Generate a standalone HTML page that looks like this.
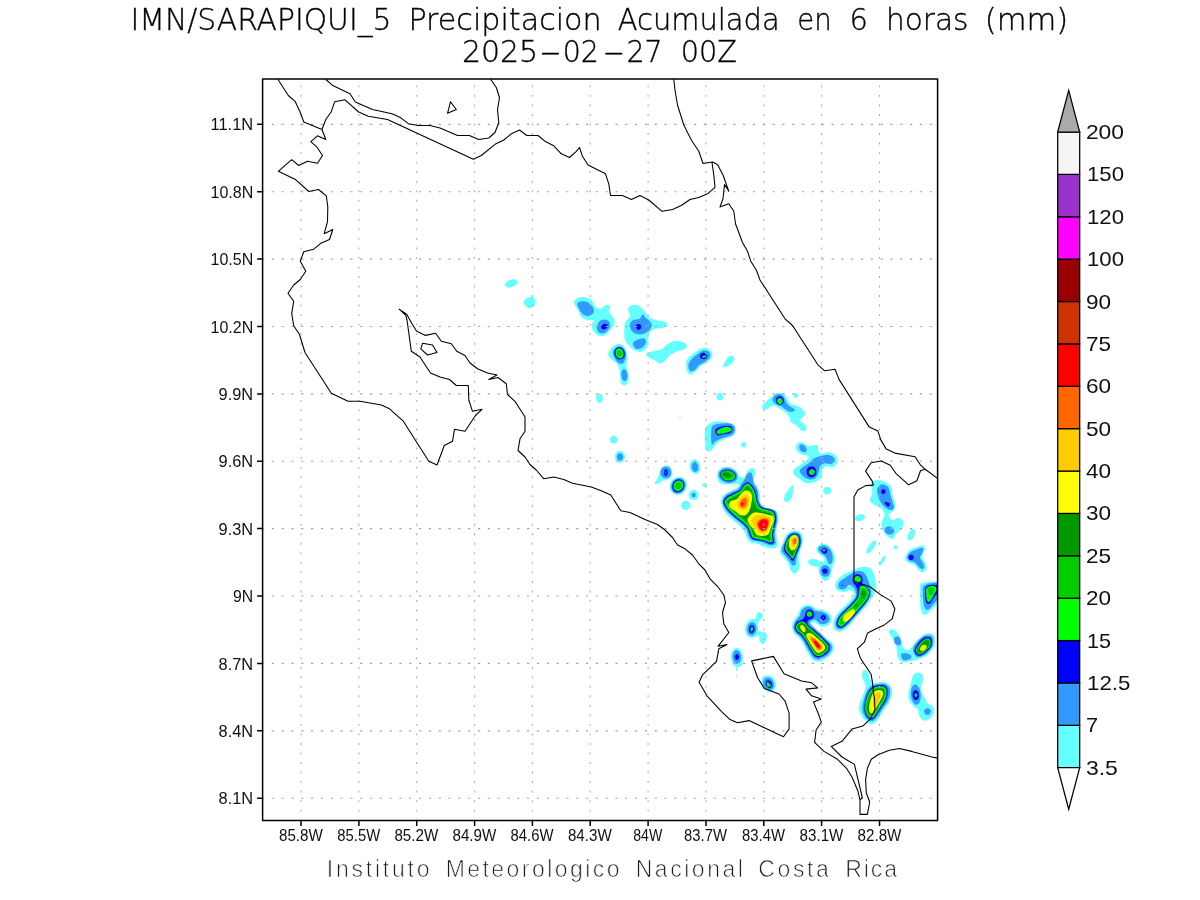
<!DOCTYPE html>
<html lang="es">
<head>
<meta charset="utf-8">
<title>IMN/SARAPIQUI_5 Precipitacion Acumulada en 6 horas (mm)</title>
<style>
html,body{margin:0;padding:0;background:#fff;}
body{width:1200px;height:900px;overflow:hidden;}
svg{display:block;}
text{font-family:"Liberation Sans",sans-serif;fill:#111;}
.ax{font-size:17px;}
.cb{font-size:19.8px;}
.ti{font-family:"DejaVu Sans","Liberation Sans",sans-serif;font-weight:200;font-size:30.6px;fill:#000;stroke:#000;stroke-width:0.35px;}
.ft{font-size:23px;fill:#1a1a1a;stroke:#fff;stroke-width:0.72px;}
.coast{fill:none;stroke:#000;stroke-width:1.08;stroke-linejoin:round;stroke-linecap:round;}
.grid{fill:none;stroke:#a4a4a4;stroke-width:1.15;stroke-dasharray:2.2 7.62;}
.gridv{fill:none;stroke:#ababab;stroke-width:1.1;stroke-dasharray:1.9 7.63;}
</style>
</head>
<body>
<svg width="1200" height="900" viewBox="0 0 1200 900">
<rect width="1200" height="900" fill="#fff"/>
<defs><clipPath id="pc"><rect x="262.6" y="79.1" width="675.0" height="741.3"/></clipPath></defs>
<g clip-path="url(#pc)">
<path fill="#66ffff" d="M517.3 281.2C517.6 281.9 517.4 282.8 516.9 283.7C516.4 284.5 515.4 285.4 514.3 286.0C513.3 286.6 511.8 287.2 510.5 287.4C509.3 287.6 507.9 287.5 507.0 287.3C506.1 287.0 505.4 286.3 505.1 285.6C504.9 285.0 505.0 284.0 505.6 283.2C506.1 282.4 507.1 281.4 508.1 280.8C509.2 280.2 510.7 279.6 511.9 279.4C513.1 279.2 514.5 279.3 515.4 279.6C516.3 279.9 517.1 280.5 517.3 281.2ZM523.6 302.3C523.8 300.9 525.4 298.8 526.8 297.9C528.3 297.1 530.8 296.6 532.3 297.1C533.7 297.5 535.1 299.3 535.5 300.8C535.9 302.2 535.3 304.5 534.4 305.7C533.5 307.0 531.5 308.3 530.1 308.3C528.6 308.4 526.8 307.2 525.8 306.2C524.7 305.2 523.4 303.6 523.6 302.3ZM574.1 302.9C573.7 300.8 575.2 299.6 576.7 298.6C578.2 297.6 580.8 296.9 583.2 297.1C585.5 297.2 588.6 298.0 590.8 299.7C592.9 301.4 594.4 305.8 596.2 307.3C598.0 308.7 600.0 308.7 601.6 308.3C603.2 308.0 604.5 305.4 605.9 305.1C607.4 304.7 609.7 305.1 610.3 306.2C610.8 307.3 608.6 309.6 609.2 311.6C609.7 313.6 612.6 316.1 613.5 318.1C614.4 320.1 615.1 321.5 614.6 323.5C614.1 325.5 611.9 328.0 610.3 330.0C608.6 332.0 606.8 334.5 604.8 335.4C602.9 336.3 600.3 336.3 598.3 335.4C596.4 334.5 594.0 331.8 592.9 330.0C591.8 328.2 591.7 326.2 591.8 324.6C592.0 323.0 594.7 321.0 594.0 320.3C593.3 319.5 589.7 320.8 587.5 320.3C585.3 319.7 582.5 318.4 581.0 317.0C579.6 315.6 580.0 313.9 578.8 311.6C577.7 309.2 574.4 305.1 574.1 302.9ZM628.7 307.3C629.5 306.4 631.2 305.3 633.0 305.1C634.8 304.9 637.5 305.1 639.5 306.2C641.5 307.3 643.1 309.6 644.9 311.6C646.7 313.6 648.4 316.6 650.3 318.1C652.3 319.5 654.5 319.6 656.8 320.3C659.2 320.9 662.6 321.0 664.4 321.8C666.2 322.5 667.9 323.6 667.7 324.6C667.5 325.6 665.5 327.1 663.3 327.8C661.2 328.6 657.0 328.0 654.7 328.9C652.3 329.8 650.3 331.3 649.3 333.3C648.2 335.2 648.5 338.5 648.2 340.8C647.8 343.2 648.2 345.5 647.1 347.3C646.0 349.1 643.7 351.1 641.7 351.7C639.7 352.2 637.3 351.7 635.2 350.6C633.0 349.5 630.4 347.2 628.7 345.2C626.9 343.2 625.5 341.2 624.8 338.7C624.1 336.1 624.2 332.7 624.3 330.0C624.5 327.3 624.5 324.8 625.4 322.4C626.3 320.1 629.3 317.9 629.8 315.9C630.2 313.9 628.4 311.9 628.2 310.5C628.1 309.1 627.9 308.2 628.7 307.3ZM608.1 353.8C608.3 351.9 610.8 349.0 612.4 347.3C614.1 345.7 616.0 344.4 617.8 344.1C619.6 343.8 621.8 344.3 623.3 345.6C624.7 346.9 625.8 349.6 626.5 351.7C627.2 353.8 627.6 355.6 627.6 358.2C627.6 360.7 626.3 364.3 626.5 366.8C626.7 369.4 628.3 371.2 628.7 373.3C629.0 375.5 629.2 377.9 628.7 379.8C628.1 381.8 626.7 384.7 625.4 385.3C624.2 385.8 622.0 384.7 621.1 383.1C620.2 381.5 620.3 377.9 620.0 375.5C619.7 373.2 619.9 371.0 619.4 369.0C618.8 367.0 618.1 365.2 616.8 363.6C615.4 362.0 612.8 360.9 611.3 359.3C609.9 357.6 607.9 355.8 608.1 353.8ZM646.0 354.9C646.2 353.9 647.8 352.6 650.3 351.7C652.9 350.8 658.3 350.8 661.2 349.5C664.1 348.2 665.5 345.5 667.7 344.1C669.8 342.7 671.7 341.6 674.2 341.3C676.7 340.9 680.7 341.2 682.8 341.9C685.0 342.6 687.0 344.3 687.2 345.6C687.4 346.9 685.7 348.5 683.9 349.5C682.1 350.5 678.7 350.8 676.3 351.7C674.0 352.6 671.7 353.5 669.8 354.9C668.0 356.4 667.1 358.9 665.5 360.3C663.9 361.8 661.9 363.6 660.1 363.6C658.3 363.6 656.5 361.3 654.7 360.3C652.9 359.4 650.7 358.6 649.3 357.7C647.8 356.8 645.8 355.9 646.0 354.9ZM686.1 362.5C686.5 360.2 687.7 358.9 689.3 357.1C691.0 355.3 693.9 353.1 695.9 351.7C697.8 350.2 699.3 349.0 701.3 348.4C703.3 347.9 706.0 347.7 707.8 348.4C709.6 349.1 711.5 351.1 712.1 352.8C712.7 354.4 712.4 356.5 711.5 358.2C710.5 359.8 708.4 361.2 706.7 362.5C705.0 363.8 703.1 364.3 701.3 365.8C699.5 367.2 697.7 369.7 695.9 371.2C694.0 372.6 691.9 374.4 690.4 374.4C689.0 374.4 687.9 373.2 687.2 371.2C686.5 369.2 685.7 364.9 686.1 362.5ZM722.9 366.8C722.6 366.0 724.2 363.0 725.1 361.4C726.0 359.8 727.1 358.0 728.4 357.1C729.6 356.2 731.7 355.6 732.7 356.0C733.7 356.4 734.4 358.0 734.2 359.3C734.0 360.5 732.8 362.4 731.6 363.6C730.4 364.8 728.7 365.9 727.3 366.4C725.8 367.0 723.3 367.7 722.9 366.8ZM602.6 397.7C602.8 398.6 602.7 399.8 602.5 400.6C602.3 401.4 601.7 402.2 601.2 402.6C600.7 402.9 599.9 403.1 599.2 402.9C598.6 402.7 597.8 402.2 597.3 401.5C596.8 400.8 596.4 399.7 596.2 398.8C596.1 397.9 596.1 396.8 596.3 396.0C596.6 395.1 597.1 394.4 597.6 394.0C598.2 393.6 599.0 393.4 599.6 393.6C600.3 393.8 601.0 394.4 601.5 395.0C602.0 395.7 602.5 396.8 602.6 397.7ZM602.8 397.4C602.9 398.3 602.9 399.4 602.6 400.1C602.4 400.9 601.8 401.7 601.3 402.0C600.7 402.4 599.9 402.6 599.2 402.4C598.6 402.2 597.8 401.7 597.3 401.1C596.8 400.4 596.4 399.4 596.2 398.6C596.1 397.7 596.1 396.6 596.4 395.9C596.6 395.1 597.2 394.3 597.7 394.0C598.3 393.6 599.1 393.4 599.8 393.6C600.4 393.8 601.2 394.3 601.7 394.9C602.2 395.6 602.6 396.6 602.8 397.4ZM617.7 439.7C617.7 440.5 617.4 441.4 616.9 442.0C616.5 442.7 615.7 443.2 615.0 443.5C614.3 443.7 613.4 443.7 612.6 443.5C611.9 443.2 611.2 442.7 610.7 442.0C610.3 441.4 610.0 440.5 610.0 439.7C610.0 438.9 610.3 437.9 610.7 437.3C611.2 436.7 611.9 436.1 612.6 435.9C613.4 435.6 614.3 435.6 615.0 435.9C615.7 436.1 616.5 436.7 616.9 437.3C617.4 437.9 617.7 438.9 617.7 439.7ZM625.0 456.7C625.0 457.8 624.6 459.2 624.0 460.2C623.5 461.1 622.5 462.0 621.5 462.4C620.6 462.7 619.4 462.7 618.5 462.4C617.5 462.0 616.5 461.1 616.0 460.2C615.4 459.2 615.0 457.8 615.0 456.7C615.0 455.5 615.4 454.1 616.0 453.1C616.5 452.2 617.5 451.3 618.5 451.0C619.4 450.6 620.6 450.6 621.5 451.0C622.5 451.3 623.5 452.2 624.0 453.1C624.6 454.1 625.0 455.5 625.0 456.7ZM680.7 418.0C680.7 418.2 680.6 418.4 680.5 418.5C680.5 418.6 680.3 418.7 680.2 418.8C680.1 418.8 679.9 418.8 679.8 418.8C679.7 418.7 679.5 418.6 679.5 418.5C679.4 418.4 679.3 418.2 679.3 418.0C679.3 417.8 679.4 417.6 679.5 417.5C679.5 417.4 679.7 417.3 679.8 417.2C679.9 417.2 680.1 417.2 680.2 417.2C680.3 417.3 680.5 417.4 680.5 417.5C680.6 417.6 680.7 417.8 680.7 418.0ZM723.2 394.8C723.5 395.5 723.7 396.3 723.6 397.0C723.6 397.8 723.2 398.6 722.7 399.1C722.2 399.7 721.5 400.1 720.8 400.3C720.1 400.4 719.2 400.3 718.5 400.0C717.9 399.7 717.2 399.1 716.8 398.5C716.5 397.9 716.3 397.0 716.4 396.3C716.4 395.6 716.8 394.7 717.3 394.2C717.8 393.7 718.5 393.2 719.2 393.1C719.9 392.9 720.8 393.0 721.5 393.3C722.1 393.6 722.8 394.2 723.2 394.8ZM705.3 428.3C706.1 425.1 708.1 424.8 710.0 423.7C711.9 422.5 713.9 421.5 716.7 421.3C719.4 421.1 723.9 422.0 726.7 422.5C729.4 423.0 731.8 422.9 733.3 424.2C734.9 425.4 735.8 428.1 735.8 430.0C735.8 431.9 734.9 434.4 733.3 435.8C731.8 437.2 728.9 437.4 726.7 438.3C724.4 439.2 721.9 440.1 720.0 441.3C718.1 442.6 716.5 444.2 715.0 445.8C713.5 447.4 712.2 450.0 710.8 450.8C709.4 451.7 707.6 452.1 706.7 450.8C705.8 449.6 705.6 447.1 705.3 443.3C705.1 439.6 704.6 431.6 705.3 428.3ZM746.5 444.7C746.5 445.2 746.3 445.9 746.0 446.3C745.6 446.8 745.1 447.2 744.5 447.4C744.0 447.5 743.3 447.5 742.8 447.4C742.3 447.2 741.7 446.8 741.4 446.3C741.0 445.9 740.8 445.2 740.8 444.7C740.8 444.1 741.0 443.5 741.4 443.0C741.7 442.6 742.3 442.1 742.8 442.0C743.3 441.8 744.0 441.8 744.5 442.0C745.1 442.1 745.6 442.6 746.0 443.0C746.3 443.5 746.5 444.1 746.5 444.7ZM655.0 483.3C655.0 482.2 657.4 479.0 658.3 476.7C659.3 474.3 659.7 471.1 660.8 469.2C661.9 467.3 663.5 465.8 665.0 465.3C666.5 464.9 668.8 465.2 670.0 466.7C671.2 468.1 672.8 472.1 672.5 474.2C672.2 476.2 670.0 478.1 668.3 479.2C666.7 480.3 664.2 480.1 662.5 480.8C660.8 481.6 659.6 483.2 658.3 483.7C657.1 484.1 655.0 484.5 655.0 483.3ZM700.3 465.7C700.5 467.2 700.4 469.0 700.0 470.3C699.6 471.5 698.8 472.8 697.9 473.4C697.0 474.0 695.7 474.3 694.6 474.0C693.6 473.7 692.3 472.8 691.5 471.8C690.7 470.7 690.0 469.0 689.7 467.6C689.5 466.1 689.6 464.4 690.0 463.1C690.4 461.8 691.2 460.5 692.1 459.9C693.0 459.3 694.3 459.1 695.4 459.4C696.4 459.6 697.7 460.5 698.5 461.6C699.3 462.6 700.0 464.3 700.3 465.7ZM685.6 490.0C684.7 491.6 683.0 493.1 681.5 493.9C679.9 494.6 677.8 495.0 676.2 494.7C674.6 494.4 672.8 493.4 671.7 492.1C670.7 490.8 669.9 488.9 669.8 487.1C669.7 485.4 670.2 483.2 671.1 481.7C672.0 480.1 673.6 478.6 675.2 477.8C676.7 477.0 678.8 476.7 680.5 477.0C682.1 477.3 683.9 478.3 684.9 479.6C686.0 480.8 686.8 482.8 686.9 484.5C687.0 486.3 686.4 488.4 685.6 490.0ZM698.7 495.0C698.7 496.0 698.3 497.1 697.7 497.9C697.1 498.7 696.1 499.5 695.2 499.8C694.3 500.1 693.1 500.1 692.1 499.8C691.2 499.5 690.2 498.7 689.6 497.9C689.0 497.1 688.7 496.0 688.7 495.0C688.7 494.0 689.0 492.9 689.6 492.1C690.2 491.3 691.2 490.5 692.1 490.2C693.1 489.9 694.3 489.9 695.2 490.2C696.1 490.5 697.1 491.3 697.7 492.1C698.3 492.9 698.7 494.0 698.7 495.0ZM690.5 505.3C690.5 506.2 690.1 507.3 689.6 508.1C689.1 508.8 688.1 509.5 687.3 509.8C686.4 510.1 685.3 510.1 684.4 509.8C683.5 509.5 682.6 508.8 682.1 508.1C681.5 507.3 681.2 506.2 681.2 505.3C681.2 504.4 681.5 503.3 682.1 502.6C682.6 501.9 683.5 501.2 684.4 500.9C685.3 500.6 686.4 500.6 687.3 500.9C688.1 501.2 689.1 501.9 689.6 502.6C690.1 503.3 690.5 504.4 690.5 505.3ZM706.7 485.0C706.7 485.4 706.5 485.9 706.3 486.3C706.1 486.6 705.7 486.9 705.3 487.1C704.9 487.2 704.4 487.2 704.0 487.1C703.7 486.9 703.3 486.6 703.0 486.3C702.8 485.9 702.7 485.4 702.7 485.0C702.7 484.6 702.8 484.1 703.0 483.7C703.3 483.4 703.7 483.1 704.0 482.9C704.4 482.8 704.9 482.8 705.3 482.9C705.7 483.1 706.1 483.4 706.3 483.7C706.5 484.1 706.7 484.6 706.7 485.0ZM717.1 475.2C717.3 473.4 718.1 471.1 719.4 469.8C720.7 468.4 722.8 467.4 724.9 467.1C727.0 466.9 729.9 467.5 731.9 468.2C733.8 468.9 735.3 469.9 736.6 471.3C737.9 472.8 738.4 475.7 739.7 476.8C741.0 477.8 743.0 478.5 744.3 477.6C745.6 476.6 746.4 472.9 747.4 471.3C748.5 469.8 749.4 468.6 750.6 468.2C751.7 467.8 753.7 468.1 754.4 469.0C755.2 469.9 755.4 471.9 755.2 473.7C755.1 475.5 753.4 477.8 753.7 479.9C753.9 482.0 755.7 483.8 756.8 486.1C757.8 488.4 759.4 491.3 759.9 493.9C760.4 496.5 759.2 499.5 759.9 501.7C760.5 503.9 761.8 505.8 763.8 507.1C765.7 508.4 769.4 508.7 771.6 509.4C773.8 510.2 775.8 510.2 777.0 511.8C778.2 513.3 778.6 516.3 778.6 518.8C778.6 521.2 777.4 524.0 777.0 526.6C776.6 529.1 776.1 531.7 776.2 534.3C776.4 536.9 777.8 539.9 777.8 542.1C777.8 544.3 777.5 546.5 776.2 547.6C774.9 548.6 772.1 548.5 770.0 548.3C767.9 548.2 765.9 547.6 763.8 546.8C761.7 546.0 759.6 544.3 757.6 543.7C755.5 543.0 753.0 543.7 751.3 542.9C749.6 542.1 748.5 540.7 747.4 539.0C746.4 537.3 746.3 534.9 745.1 532.8C743.9 530.7 742.3 528.5 740.4 526.6C738.6 524.6 736.3 522.9 734.2 521.1C732.1 519.3 729.8 517.6 728.0 515.7C726.2 513.7 724.5 511.8 723.3 509.4C722.2 507.1 721.0 504.0 721.0 501.7C721.0 499.3 721.9 497.1 723.3 495.4C724.8 493.8 727.5 492.7 729.6 491.6C731.6 490.4 734.1 489.5 735.8 488.4C737.5 487.4 739.5 486.1 739.7 485.3C739.8 484.6 738.5 483.9 736.6 483.8C734.6 483.6 730.5 484.6 728.0 484.6C725.5 484.6 723.4 484.4 721.8 483.8C720.2 483.1 719.1 482.1 718.4 480.7C717.6 479.2 716.9 477.0 717.1 475.2ZM780.1 549.9C780.4 547.8 782.2 544.6 783.2 542.1C784.3 539.6 785.0 536.9 786.3 535.1C787.6 533.3 789.2 531.9 791.0 531.2C792.8 530.5 795.4 530.4 797.2 530.9C799.0 531.4 801.0 532.5 801.9 534.3C802.8 536.2 802.9 539.5 802.7 542.1C802.4 544.7 801.0 547.3 800.3 549.9C799.7 552.5 798.9 554.8 798.8 557.7C798.6 560.5 800.1 564.4 799.6 567.0C799.0 569.6 797.1 572.6 795.7 573.2C794.2 573.9 792.2 572.4 791.0 570.9C789.8 569.3 789.7 566.0 788.7 563.9C787.6 561.8 786.0 560.0 784.8 558.4C783.5 556.9 782.0 556.0 781.2 554.6C780.4 553.1 779.8 552.0 780.1 549.9ZM784.0 498.6C784.2 497.2 785.3 494.9 786.3 493.1C787.4 491.3 789.1 489.0 790.2 487.7C791.3 486.4 792.5 484.9 793.0 485.3C793.5 485.7 793.5 488.3 793.3 490.0C793.1 491.7 792.6 493.6 791.8 495.4C791.0 497.3 789.8 499.9 788.7 500.9C787.6 501.9 786.0 501.7 785.2 501.4C784.5 501.0 783.8 499.9 784.0 498.6ZM831.1 490.8C831.1 491.5 830.8 492.4 830.4 493.1C829.9 493.7 829.2 494.2 828.4 494.5C827.7 494.7 826.8 494.7 826.0 494.5C825.3 494.2 824.5 493.7 824.1 493.1C823.6 492.4 823.4 491.5 823.4 490.8C823.4 490.0 823.6 489.1 824.1 488.5C824.5 487.9 825.3 487.3 826.0 487.1C826.8 486.8 827.7 486.8 828.4 487.1C829.2 487.3 829.9 487.9 830.4 488.5C830.8 489.1 831.1 490.0 831.1 490.8ZM816.7 548.3C817.1 547.2 818.5 545.2 819.8 544.4C821.1 543.7 822.8 543.3 824.4 543.7C826.1 544.1 828.3 545.2 829.9 546.8C831.4 548.3 832.9 550.9 833.8 553.0C834.7 555.1 835.5 557.1 835.3 559.2C835.2 561.3 833.6 563.4 833.0 565.4C832.4 567.5 832.0 569.6 831.4 571.7C830.9 573.7 830.9 576.3 829.9 577.9C828.9 579.4 826.6 581.0 825.2 581.0C823.8 581.0 822.4 579.4 821.3 577.9C820.3 576.3 819.5 573.5 819.0 571.7C818.5 569.9 819.1 567.9 818.2 567.0C817.3 566.1 815.1 566.7 813.6 566.2C812.0 565.7 809.7 564.9 808.9 563.9C808.1 562.9 808.1 560.8 808.9 560.0C809.7 559.2 811.9 558.8 813.6 558.9C815.2 559.0 817.4 560.2 819.0 560.8C820.6 561.3 822.0 562.7 822.9 562.3C823.8 561.9 825.0 559.7 824.4 558.4C823.9 557.1 821.0 555.7 819.8 554.6C818.5 553.4 817.5 552.5 817.0 551.4C816.5 550.4 816.2 549.5 816.7 548.3ZM762.4 406.4C762.8 405.2 764.3 403.2 765.6 401.8C766.9 400.4 768.7 399.2 770.2 397.9C771.8 396.6 773.2 394.9 774.9 394.0C776.6 393.1 778.6 392.6 780.3 392.8C782.0 392.9 783.7 393.5 785.0 394.8C786.3 396.0 787.1 398.7 788.1 400.2C789.1 401.8 789.8 403.2 791.2 404.1C792.6 405.0 794.9 404.9 796.7 405.7C798.5 406.4 800.7 407.5 802.1 408.8C803.5 410.1 805.1 412.0 805.2 413.4C805.4 414.9 803.8 416.2 802.9 417.3C802.0 418.5 799.6 419.4 799.8 420.4C799.9 421.5 802.6 422.4 803.7 423.6C804.8 424.7 806.1 426.2 806.3 427.4C806.5 428.7 805.6 430.5 804.8 431.0C803.9 431.5 802.4 431.3 801.3 430.6C800.2 429.8 799.4 427.7 798.2 426.7C797.1 425.6 795.6 425.1 794.3 424.3C793.1 423.6 791.5 423.2 790.8 422.0C790.0 420.8 790.4 418.8 789.7 417.3C789.0 415.9 788.0 414.7 786.6 413.4C785.1 412.1 782.8 410.7 781.1 409.6C779.4 408.4 778.0 407.4 776.4 406.8C774.9 406.1 773.5 405.2 771.8 405.7C770.1 406.1 767.8 409.0 766.3 409.6C764.9 410.2 763.9 409.8 763.2 409.2C762.6 408.7 762.1 407.7 762.4 406.4ZM798.2 395.6C798.2 396.0 798.0 396.6 797.8 396.9C797.5 397.3 797.0 397.6 796.6 397.8C796.2 397.9 795.6 397.9 795.2 397.8C794.7 397.6 794.3 397.3 794.0 396.9C793.7 396.6 793.6 396.0 793.6 395.6C793.6 395.1 793.7 394.6 794.0 394.2C794.3 393.8 794.7 393.5 795.2 393.3C795.6 393.2 796.2 393.2 796.6 393.3C797.0 393.5 797.5 393.8 797.8 394.2C798.0 394.6 798.2 395.1 798.2 395.6ZM808.6 417.3C808.6 417.5 808.6 417.6 808.5 417.7C808.4 417.8 808.3 417.9 808.1 417.9C808.0 418.0 807.8 418.0 807.6 417.9C807.5 417.9 807.3 417.8 807.2 417.7C807.1 417.6 807.1 417.5 807.1 417.3C807.1 417.2 807.1 417.1 807.2 417.0C807.3 416.9 807.5 416.8 807.6 416.7C807.8 416.7 808.0 416.7 808.1 416.7C808.3 416.8 808.4 416.9 808.5 417.0C808.6 417.1 808.6 417.2 808.6 417.3ZM795.9 446.9C796.1 445.3 797.7 442.9 799.0 442.2C800.3 441.6 802.1 442.4 803.7 443.0C805.2 443.6 806.6 445.7 808.3 446.1C810.0 446.5 812.2 445.5 813.8 445.3C815.3 445.2 816.9 444.4 817.7 445.3C818.4 446.2 817.8 449.4 818.4 450.8C819.1 452.2 820.0 453.6 821.6 453.9C823.1 454.1 825.7 452.3 827.8 452.3C829.9 452.3 832.4 453.0 834.0 453.9C835.6 454.8 837.0 456.1 837.4 457.8C837.9 459.5 837.6 462.4 836.8 464.0C836.0 465.6 834.2 466.7 832.4 467.1C830.7 467.5 827.9 465.9 826.2 466.3C824.5 466.7 823.1 467.9 822.3 469.4C821.6 471.0 822.5 473.9 821.9 475.7C821.2 477.5 820.1 479.2 818.4 480.3C816.8 481.5 814.4 482.3 812.2 482.7C810.0 483.1 807.3 483.3 805.2 482.7C803.1 482.0 801.6 480.1 799.8 478.8C798.0 477.5 795.4 476.3 794.3 474.9C793.3 473.5 792.9 471.6 793.6 470.2C794.2 468.8 796.5 467.6 798.2 466.3C799.9 465.0 802.0 463.7 803.7 462.4C805.4 461.1 807.7 459.7 808.3 458.6C809.0 457.4 808.6 456.1 807.6 455.4C806.5 454.8 803.8 455.3 802.1 454.7C800.4 454.0 798.5 452.9 797.4 451.6C796.4 450.3 795.6 448.4 795.9 446.9ZM784.2 498.2C784.3 496.8 785.2 494.5 786.1 492.8C787.0 491.1 788.6 489.4 789.7 488.1C790.8 486.8 792.2 484.6 792.8 485.0C793.4 485.4 793.4 488.5 793.2 490.4C793.1 492.4 792.7 494.9 792.0 496.7C791.3 498.5 790.0 500.6 788.9 501.3C787.8 502.1 786.2 501.9 785.5 501.3C784.7 500.8 784.1 499.6 784.2 498.2ZM830.9 490.8C830.9 491.5 830.6 492.4 830.1 493.0C829.7 493.7 828.9 494.2 828.2 494.5C827.5 494.7 826.5 494.7 825.8 494.5C825.1 494.2 824.3 493.7 823.9 493.0C823.4 492.4 823.1 491.5 823.1 490.8C823.1 490.0 823.4 489.1 823.9 488.5C824.3 487.9 825.1 487.3 825.8 487.1C826.5 486.8 827.5 486.8 828.2 487.1C828.9 487.3 829.7 487.9 830.1 488.5C830.6 489.1 830.9 490.0 830.9 490.8ZM871.1 483.3C872.0 481.3 875.4 480.2 877.8 480.0C880.2 479.8 883.3 481.1 885.6 482.2C887.8 483.3 889.9 484.4 891.1 486.7C892.3 488.9 891.9 492.4 892.7 495.6C893.4 498.7 895.4 503.0 895.6 505.6C895.7 508.1 894.4 509.6 893.3 511.1C892.2 512.6 889.1 513.0 888.9 514.4C888.7 515.9 890.6 519.4 892.2 520.0C893.9 520.6 897.0 517.4 898.9 517.8C900.8 518.1 903.4 520.4 903.8 522.2C904.1 524.1 902.5 526.9 901.1 528.9C899.7 530.9 896.9 532.8 895.6 534.4C894.3 536.1 894.6 538.5 893.3 538.9C892.0 539.3 889.4 538.0 887.8 536.7C886.1 535.4 884.4 533.3 883.3 531.1C882.3 528.9 881.4 525.9 881.6 523.3C881.7 520.7 884.3 518.0 884.4 515.6C884.6 513.1 883.7 510.6 882.2 508.9C880.7 507.2 877.6 506.9 875.6 505.6C873.5 504.3 870.6 503.3 870.0 501.1C869.4 498.9 872.0 495.2 872.2 492.2C872.4 489.3 870.2 485.4 871.1 483.3ZM864.8 516.0C865.0 516.6 864.9 517.5 864.6 518.2C864.2 518.9 863.4 519.7 862.6 520.2C861.7 520.7 860.6 521.2 859.6 521.3C858.6 521.4 857.5 521.3 856.8 521.0C856.1 520.7 855.4 520.1 855.2 519.5C855.0 518.9 855.1 518.0 855.4 517.4C855.8 516.7 856.6 515.9 857.4 515.3C858.3 514.8 859.4 514.4 860.4 514.3C861.4 514.1 862.5 514.2 863.2 514.5C863.9 514.8 864.6 515.4 864.8 516.0ZM873.5 548.6C872.6 549.9 871.4 551.3 870.5 552.1C869.5 552.9 868.4 553.5 867.8 553.6C867.1 553.7 866.6 553.4 866.4 552.7C866.3 552.0 866.5 550.8 866.9 549.6C867.4 548.4 868.3 546.8 869.1 545.6C870.0 544.3 871.2 543.0 872.2 542.1C873.1 541.3 874.2 540.7 874.9 540.6C875.6 540.5 876.1 540.9 876.3 541.5C876.4 542.2 876.2 543.4 875.7 544.6C875.3 545.8 874.4 547.4 873.5 548.6ZM883.8 561.4C883.2 562.4 882.4 563.5 881.8 564.2C881.2 564.9 880.5 565.5 880.1 565.7C879.7 565.8 879.4 565.6 879.3 565.2C879.2 564.7 879.4 563.9 879.7 563.0C880.0 562.1 880.5 560.9 881.1 559.9C881.7 558.9 882.4 557.8 883.1 557.1C883.7 556.4 884.3 555.8 884.8 555.7C885.2 555.5 885.5 555.7 885.6 556.1C885.7 556.6 885.5 557.5 885.2 558.4C884.9 559.2 884.4 560.5 883.8 561.4ZM914.2 536.2C913.6 537.3 912.8 538.5 912.1 539.3C911.3 540.0 910.4 540.6 909.7 540.7C909.0 540.8 908.3 540.4 908.0 539.8C907.6 539.3 907.4 538.2 907.5 537.1C907.6 536.1 908.0 534.7 908.5 533.6C909.0 532.5 909.9 531.3 910.6 530.5C911.3 529.8 912.3 529.2 913.0 529.1C913.6 529.0 914.3 529.3 914.7 529.9C915.1 530.5 915.3 531.6 915.2 532.6C915.1 533.7 914.7 535.1 914.2 536.2ZM897.8 547.3C897.8 547.7 897.6 548.2 897.4 548.5C897.1 548.8 896.7 549.1 896.2 549.2C895.8 549.4 895.3 549.4 894.9 549.2C894.5 549.1 894.0 548.8 893.8 548.5C893.5 548.2 893.3 547.7 893.3 547.3C893.3 546.9 893.5 546.5 893.8 546.2C894.0 545.8 894.5 545.6 894.9 545.4C895.3 545.3 895.8 545.3 896.2 545.4C896.7 545.6 897.1 545.8 897.4 546.2C897.6 546.5 897.8 546.9 897.8 547.3ZM905.6 555.6C906.3 553.9 908.0 551.5 910.0 550.0C912.0 548.5 915.6 547.4 917.8 546.7C920.0 545.9 922.1 545.0 923.3 545.6C924.5 546.1 925.1 548.1 924.9 550.0C924.7 551.9 922.1 554.4 922.2 556.7C922.3 558.9 924.8 561.3 925.6 563.3C926.3 565.4 927.2 567.4 926.7 568.9C926.1 570.4 923.7 572.2 922.2 572.2C920.7 572.2 919.1 570.2 917.8 568.9C916.5 567.6 915.9 565.4 914.4 564.4C913.0 563.5 910.4 564.1 908.9 563.3C907.4 562.6 906.1 561.3 905.6 560.0C905.0 558.7 904.8 557.2 905.6 555.6ZM920.0 585.8C920.3 583.7 920.7 583.9 921.8 583.3C922.8 582.7 924.3 582.3 926.2 582.0C928.1 581.8 930.7 581.6 933.3 581.6C936.0 581.6 940.4 579.7 942.2 581.8C944.0 583.8 944.6 590.4 944.0 593.8C943.4 597.1 940.4 599.4 938.7 601.8C936.9 604.1 934.8 606.4 933.3 608.0C931.9 609.6 931.0 610.5 929.8 611.6C928.6 612.6 927.3 613.7 926.2 614.2C925.2 614.7 924.3 615.0 923.6 614.7C922.8 614.3 922.1 613.7 921.6 612.0C921.1 610.3 920.7 607.2 920.4 604.4C920.2 601.7 920.1 598.7 920.0 595.6C919.9 592.4 919.7 587.8 920.0 585.8ZM835.2 584.9C835.4 583.5 836.2 581.6 837.4 580.0C838.7 578.4 840.7 576.5 842.8 575.1C844.9 573.7 847.5 572.7 849.9 571.6C852.3 570.4 854.6 569.3 857.0 568.4C859.4 567.6 862.0 566.8 864.1 566.7C866.2 566.5 868.0 566.7 869.4 567.6C870.9 568.4 872.1 569.9 873.0 571.6C873.9 573.3 874.3 575.4 874.8 577.8C875.3 580.1 876.1 583.3 876.1 585.8C876.1 588.3 875.6 590.7 874.8 592.9C874.0 595.1 872.6 597.0 871.2 599.1C869.9 601.2 868.6 603.1 866.8 605.3C865.0 607.6 862.6 610.1 860.6 612.4C858.5 614.8 856.4 617.2 854.3 619.6C852.3 621.9 850.2 624.7 848.1 626.7C846.0 628.6 843.8 630.4 841.9 631.1C840.0 631.9 838.0 631.9 836.6 631.1C835.1 630.4 833.9 628.4 833.4 626.7C833.0 624.9 833.2 622.7 833.9 620.4C834.6 618.2 836.0 615.4 837.4 613.3C838.9 611.3 840.9 609.9 842.8 608.0C844.7 606.1 847.2 603.9 849.0 601.8C850.8 599.7 852.9 597.3 853.4 595.6C854.0 593.8 853.3 592.0 852.6 591.1C851.8 590.2 850.3 590.1 849.0 590.2C847.7 590.4 846.2 591.9 844.6 592.0C842.9 592.1 840.6 591.7 839.2 591.1C837.8 590.5 836.8 589.5 836.1 588.4C835.4 587.4 835.0 586.3 835.2 584.9ZM745.1 627.9C745.3 626.3 745.9 623.8 746.9 622.4C747.9 621.0 749.7 619.9 751.2 619.3C752.6 618.7 754.5 619.5 755.4 618.7C756.4 617.9 756.1 615.6 756.7 614.4C757.3 613.3 758.1 612.1 759.1 612.0C760.1 611.9 762.0 612.8 762.5 613.8C763.0 614.9 762.7 616.9 762.2 618.1C761.6 619.3 759.8 619.9 759.1 621.2C758.4 622.4 758.2 623.9 758.1 625.4C758.0 627.0 757.9 629.2 758.5 630.3C759.1 631.5 760.4 631.8 761.6 632.2C762.7 632.6 764.6 632.0 765.5 632.8C766.4 633.6 767.1 635.5 767.1 637.1C767.0 638.6 766.0 640.8 765.2 641.9C764.4 643.1 763.1 644.0 762.2 643.8C761.3 643.6 760.3 642.1 759.7 640.7C759.2 639.3 759.5 636.0 758.9 635.2C758.3 634.5 757.2 635.8 756.1 636.2C754.9 636.6 753.2 638.0 751.8 637.9C750.4 637.9 748.6 636.8 747.5 635.8C746.4 634.9 745.8 633.5 745.4 632.2C745.0 630.8 744.8 629.5 745.1 627.9ZM743.2 657.1C743.4 659.0 743.1 661.3 742.5 662.9C742.0 664.5 740.9 666.0 739.8 666.7C738.7 667.4 737.2 667.5 736.0 667.0C734.9 666.5 733.5 665.2 732.7 663.7C731.9 662.3 731.2 660.0 731.0 658.1C730.9 656.2 731.1 653.9 731.7 652.3C732.3 650.7 733.3 649.2 734.4 648.5C735.5 647.8 737.0 647.7 738.2 648.2C739.4 648.7 740.7 650.0 741.5 651.4C742.4 652.9 743.0 655.1 743.2 657.1ZM737.2 668.2C737.2 668.8 737.2 669.5 737.1 670.0C737.0 670.5 736.9 670.9 736.7 671.1C736.6 671.3 736.4 671.3 736.3 671.1C736.1 670.9 736.0 670.5 735.9 670.0C735.8 669.5 735.8 668.8 735.8 668.2C735.8 667.6 735.8 666.9 735.9 666.4C736.0 665.9 736.1 665.5 736.3 665.3C736.4 665.1 736.6 665.1 736.7 665.3C736.9 665.5 737.0 665.9 737.1 666.4C737.2 666.9 737.2 667.6 737.2 668.2ZM736.9 675.9C736.9 676.3 736.8 676.7 736.8 676.9C736.8 677.2 736.7 677.4 736.6 677.5C736.5 677.7 736.5 677.7 736.4 677.5C736.3 677.4 736.2 677.2 736.2 676.9C736.2 676.7 736.1 676.3 736.1 675.9C736.1 675.6 736.2 675.2 736.2 674.9C736.2 674.6 736.3 674.4 736.4 674.3C736.5 674.2 736.5 674.2 736.6 674.3C736.7 674.4 736.8 674.6 736.8 674.9C736.8 675.2 736.9 675.6 736.9 675.9ZM775.1 680.5C775.8 682.0 776.1 684.1 776.0 685.6C775.8 687.2 775.0 688.9 774.1 689.9C773.1 691.0 771.5 691.7 770.1 691.8C768.7 691.9 766.9 691.4 765.6 690.5C764.3 689.6 762.9 688.0 762.2 686.5C761.5 685.0 761.2 682.9 761.3 681.4C761.5 679.8 762.2 678.1 763.2 677.1C764.2 676.0 765.8 675.3 767.2 675.2C768.6 675.1 770.4 675.6 771.7 676.5C773.0 677.4 774.4 679.0 775.1 680.5ZM792.1 625.4C792.4 623.7 793.5 621.2 794.6 619.3C795.6 617.5 797.2 616.3 798.2 614.4C799.2 612.6 799.4 609.9 800.7 608.3C801.9 606.8 803.7 605.7 805.6 605.3C807.4 604.8 809.9 605.0 811.7 605.6C813.4 606.3 814.3 608.3 815.9 608.9C817.6 609.6 819.7 609.1 821.4 609.6C823.2 610.0 824.8 610.5 826.3 611.4C827.9 612.3 829.7 613.6 830.6 615.1C831.5 616.5 832.1 618.3 831.8 619.9C831.5 621.6 830.1 623.7 828.8 624.8C827.5 626.0 825.5 626.6 823.9 626.7C822.3 626.8 820.4 626.2 819.0 625.4C817.6 624.7 816.7 622.8 815.3 622.4C814.0 622.0 811.4 622.3 811.1 623.0C810.8 623.7 812.2 625.2 813.5 626.7C814.8 628.1 817.3 629.9 819.0 631.6C820.7 633.2 822.2 634.9 823.9 636.4C825.6 638.0 827.8 639.3 829.4 640.7C831.0 642.1 833.1 643.3 833.7 645.0C834.3 646.7 833.8 649.3 833.1 651.1C832.3 652.9 830.9 654.6 829.4 656.0C827.9 657.4 825.8 658.8 823.9 659.7C822.0 660.6 819.6 661.5 817.8 661.5C815.9 661.5 814.3 660.8 812.9 659.7C811.5 658.5 810.4 656.6 809.2 654.8C808.0 652.9 806.8 650.9 805.6 648.7C804.3 646.4 803.1 643.3 801.9 641.3C800.7 639.4 799.4 638.3 798.2 637.1C797.0 635.8 795.5 635.2 794.6 634.0C793.6 632.8 793.1 631.1 792.7 629.7C792.3 628.3 791.8 627.2 792.1 625.4ZM862.1 674.8C862.1 673.7 862.3 672.1 862.8 671.3C863.4 670.5 864.4 670.0 865.2 670.1C865.9 670.2 866.9 670.8 867.5 671.7C868.1 672.6 868.5 674.1 869.1 675.6C869.6 677.0 869.9 678.9 870.6 680.2C871.3 681.5 872.1 682.9 873.3 683.3C874.6 683.7 876.2 682.8 878.0 682.6C879.8 682.4 882.4 681.9 884.2 682.2C886.0 682.4 887.7 683.0 888.9 684.1C890.1 685.2 891.1 687.1 891.6 688.8C892.1 690.5 892.3 692.1 892.0 694.2C891.7 696.3 890.7 699.0 889.7 701.2C888.6 703.4 887.1 705.5 885.8 707.4C884.5 709.4 883.1 711.1 881.9 712.9C880.7 714.7 879.9 716.6 878.8 718.3C877.6 720.0 876.3 722.1 874.9 723.0C873.5 723.9 871.8 724.2 870.2 723.8C868.7 723.4 867.0 722.0 865.6 720.7C864.1 719.4 862.7 717.7 861.7 716.0C860.6 714.3 859.7 712.4 859.3 710.6C858.9 708.7 859.0 707.1 859.3 705.1C859.7 703.2 860.5 701.0 861.3 698.9C862.1 696.8 863.3 694.7 864.0 692.7C864.7 690.6 865.5 688.3 865.6 686.4C865.6 684.6 864.9 683.2 864.4 681.8C863.9 680.4 862.8 679.1 862.4 677.9C862.1 676.7 862.0 675.9 862.1 674.8ZM908.4 694.0C908.6 691.4 909.9 688.0 910.6 685.0C911.4 682.0 911.8 678.1 912.9 676.0C914.0 673.9 915.8 672.8 917.4 672.6C919.0 672.4 921.6 673.4 922.6 674.9C923.5 676.4 923.3 679.4 923.0 681.6C922.7 683.9 920.6 685.9 920.8 688.4C920.9 690.8 923.0 693.8 924.1 696.3C925.3 698.7 926.0 701.3 927.5 703.0C929.0 704.7 932.1 704.7 933.1 706.4C934.2 708.1 934.4 711.1 933.8 713.1C933.2 715.2 931.4 717.5 929.8 718.8C928.1 720.0 925.8 720.9 924.1 720.6C922.4 720.2 920.6 718.3 919.6 716.5C918.6 714.7 919.0 711.4 918.1 709.8C917.1 708.1 915.4 707.9 914.0 706.4C912.6 704.9 910.4 702.8 909.5 700.8C908.6 698.7 908.2 696.6 908.4 694.0ZM888.9 631.1C889.1 629.4 892.4 628.7 894.4 630.0C896.5 631.3 899.6 635.9 901.1 638.9C902.6 641.9 902.0 645.9 903.3 647.8C904.6 649.6 907.0 650.7 908.9 650.0C910.7 649.3 912.4 645.6 914.4 643.3C916.5 641.1 918.9 638.3 921.1 636.7C923.3 635.0 925.6 633.5 927.8 633.3C929.9 633.1 932.9 633.5 934.0 635.6C935.1 637.6 935.5 642.4 934.4 645.6C933.4 648.7 930.4 652.2 927.8 654.4C925.2 656.7 921.7 657.8 918.9 658.9C916.1 660.0 913.7 660.6 911.1 661.1C908.5 661.7 905.6 662.8 903.3 662.2C901.1 661.7 898.9 660.2 897.8 657.8C896.7 655.4 897.4 650.7 896.7 647.8C895.9 644.8 894.6 642.8 893.3 640.0C892.0 637.2 888.7 632.8 888.9 631.1Z"/>
<path fill="#3399ff" d="M577.3 304.0C577.5 302.5 579.3 301.7 581.0 301.4C582.7 301.1 585.5 301.3 587.5 302.3C589.5 303.2 591.9 305.5 592.9 307.3C593.9 309.0 594.3 311.2 593.6 312.7C592.9 314.1 590.3 315.6 588.6 315.9C586.9 316.2 584.6 315.3 583.2 314.4C581.7 313.5 580.9 312.2 579.9 310.5C578.9 308.8 577.1 305.5 577.3 304.0ZM597.3 325.7C597.6 324.2 598.2 322.3 599.4 321.3C600.7 320.3 603.2 319.5 604.8 319.6C606.5 319.7 608.3 320.6 609.2 321.8C610.0 323.0 610.4 325.0 609.8 326.8C609.3 328.5 607.5 331.1 605.9 332.2C604.4 333.3 602.0 333.6 600.5 333.3C599.1 332.9 597.8 331.3 597.3 330.0C596.7 328.7 596.9 327.1 597.3 325.7ZM629.8 324.6C629.9 322.8 631.4 321.2 633.0 320.3C634.6 319.3 637.9 319.7 639.5 318.7C641.1 317.8 641.7 314.5 642.8 314.4C643.8 314.3 644.6 316.6 646.0 318.1C647.5 319.6 650.7 321.7 651.4 323.5C652.2 325.3 651.4 327.3 650.3 328.9C649.3 330.5 647.1 332.4 644.9 333.3C642.8 334.2 639.5 334.7 637.3 334.3C635.2 334.0 633.2 332.7 631.9 331.1C630.7 329.5 629.6 326.4 629.8 324.6ZM633.0 343.0C633.6 341.8 635.5 340.6 637.3 339.8C639.2 339.0 642.4 337.9 643.8 338.2C645.3 338.6 646.2 340.4 646.0 341.9C645.8 343.4 644.2 346.1 642.8 347.3C641.3 348.5 638.8 349.1 637.3 349.1C635.9 349.0 634.8 347.9 634.1 346.9C633.4 345.9 632.5 344.2 633.0 343.0ZM612.9 352.8C612.9 350.8 614.4 348.8 615.7 347.8C617.0 346.7 619.1 346.0 620.7 346.5C622.2 346.9 624.3 348.8 625.2 350.6C626.1 352.4 626.2 355.0 625.9 357.1C625.6 359.1 624.5 361.9 623.5 362.9C622.4 364.0 620.9 364.1 619.6 363.6C618.3 363.0 616.8 361.5 615.7 359.7C614.6 357.9 612.9 354.7 612.9 352.8ZM627.4 374.8C627.5 376.0 627.4 377.4 627.1 378.4C626.8 379.4 626.3 380.3 625.8 380.7C625.3 381.2 624.5 381.2 623.9 380.9C623.3 380.6 622.6 379.8 622.2 378.8C621.8 377.9 621.4 376.5 621.3 375.3C621.2 374.2 621.3 372.7 621.6 371.7C621.9 370.7 622.4 369.8 622.9 369.4C623.4 369.0 624.2 368.9 624.8 369.2C625.4 369.6 626.0 370.4 626.5 371.3C626.9 372.2 627.3 373.6 627.4 374.8ZM688.3 365.8C688.4 363.8 689.9 361.2 691.5 359.3C693.1 357.3 696.0 355.3 698.0 353.8C700.0 352.4 701.6 351.0 703.4 350.6C705.2 350.2 707.8 350.6 708.9 351.7C709.9 352.8 710.5 355.5 709.9 357.1C709.4 358.7 707.4 360.1 705.6 361.4C703.8 362.8 700.9 363.7 699.1 365.1C697.3 366.6 696.2 369.1 694.8 370.1C693.3 371.1 691.5 371.9 690.4 371.2C689.3 370.5 688.1 367.7 688.3 365.8ZM623.2 457.0C623.2 457.7 622.9 458.6 622.6 459.2C622.2 459.7 621.6 460.3 621.0 460.5C620.4 460.7 619.6 460.7 619.0 460.5C618.4 460.3 617.8 459.7 617.4 459.2C617.1 458.6 616.8 457.7 616.8 457.0C616.8 456.3 617.1 455.4 617.4 454.8C617.8 454.3 618.4 453.7 619.0 453.5C619.6 453.3 620.4 453.3 621.0 453.5C621.6 453.7 622.2 454.3 622.6 454.8C622.9 455.4 623.2 456.3 623.2 457.0ZM711.3 430.0C711.6 426.9 711.9 426.4 713.3 425.3C714.8 424.3 717.2 423.9 720.0 423.7C722.8 423.4 727.6 423.0 730.0 423.7C732.4 424.3 734.1 425.9 734.7 427.5C735.3 429.1 734.7 431.9 733.7 433.3C732.6 434.8 730.3 435.5 728.3 436.3C726.3 437.2 723.8 437.5 721.7 438.3C719.6 439.2 717.5 440.4 715.8 441.3C714.2 442.3 712.4 446.1 711.7 444.2C710.9 442.3 711.1 433.1 711.3 430.0ZM671.3 472.5C671.3 473.6 670.9 475.0 670.3 475.9C669.6 476.9 668.6 477.7 667.5 478.0C666.5 478.4 665.2 478.4 664.1 478.0C663.1 477.7 662.0 476.9 661.4 475.9C660.8 475.0 660.3 473.6 660.3 472.5C660.3 471.4 660.8 470.0 661.4 469.1C662.0 468.1 663.1 467.3 664.1 467.0C665.2 466.6 666.5 466.6 667.5 467.0C668.6 467.3 669.6 468.1 670.3 469.1C670.9 470.0 671.3 471.4 671.3 472.5ZM698.3 466.4C698.5 467.4 698.4 468.6 698.2 469.4C697.9 470.3 697.4 471.1 696.8 471.5C696.3 471.9 695.5 472.1 694.8 471.9C694.1 471.7 693.4 471.1 692.9 470.4C692.3 469.6 691.9 468.5 691.7 467.6C691.5 466.6 691.6 465.4 691.8 464.6C692.1 463.7 692.6 462.9 693.2 462.5C693.7 462.1 694.5 461.9 695.2 462.1C695.9 462.3 696.6 462.9 697.1 463.6C697.7 464.4 698.1 465.5 698.3 466.4ZM684.4 489.3C683.6 490.7 682.3 492.0 680.9 492.7C679.6 493.3 677.8 493.6 676.5 493.4C675.1 493.1 673.6 492.3 672.7 491.2C671.8 490.1 671.2 488.5 671.1 487.0C671.0 485.5 671.5 483.7 672.3 482.3C673.0 481.0 674.4 479.7 675.7 479.0C677.1 478.3 678.8 478.1 680.2 478.3C681.6 478.5 683.0 479.4 683.9 480.5C684.8 481.5 685.5 483.2 685.5 484.7C685.6 486.2 685.2 488.0 684.4 489.3ZM695.7 495.0C695.7 495.5 695.5 496.0 695.3 496.4C695.1 496.7 694.7 497.1 694.3 497.2C693.9 497.4 693.4 497.4 693.0 497.2C692.7 497.1 692.3 496.7 692.0 496.4C691.8 496.0 691.7 495.5 691.7 495.0C691.7 494.5 691.8 494.0 692.0 493.6C692.3 493.3 692.7 492.9 693.0 492.8C693.4 492.6 693.9 492.6 694.3 492.8C694.7 492.9 695.1 493.3 695.3 493.6C695.5 494.0 695.7 494.5 695.7 495.0ZM722.6 501.7C722.6 499.6 723.5 497.8 724.9 496.2C726.3 494.7 728.9 493.5 731.1 492.3C733.3 491.2 736.4 490.6 738.1 489.2C739.8 487.8 740.2 485.3 741.2 483.8C742.3 482.2 743.3 481.6 744.3 479.9C745.4 478.2 746.3 474.8 747.4 473.7C748.6 472.5 750.4 472.1 751.3 472.9C752.2 473.7 752.5 476.5 752.9 478.3C753.3 480.1 752.9 481.8 753.7 483.8C754.4 485.7 756.7 487.3 757.6 490.0C758.4 492.7 758.0 497.4 758.8 500.1C759.6 502.8 760.4 504.9 762.2 506.3C764.1 507.8 767.8 507.9 770.0 508.7C772.2 509.4 774.2 509.3 775.4 511.0C776.7 512.7 777.2 516.2 777.3 518.8C777.4 521.4 776.4 523.8 775.9 526.6C775.5 529.3 774.7 532.3 774.7 535.1C774.6 538.0 776.2 542.0 775.4 543.7C774.7 545.4 771.9 545.4 770.0 545.2C768.1 545.1 765.9 543.5 763.8 542.9C761.7 542.2 759.6 541.9 757.6 541.3C755.5 540.8 752.9 540.8 751.3 539.8C749.8 538.7 749.0 536.8 748.2 535.1C747.4 533.4 747.7 531.5 746.7 529.7C745.6 527.9 743.8 525.9 742.0 524.2C740.2 522.5 737.9 521.2 735.8 519.6C733.7 517.9 731.4 515.9 729.6 514.1C727.7 512.3 726.1 510.7 724.9 508.7C723.7 506.6 722.6 503.7 722.6 501.7ZM737.4 477.5C737.1 478.9 736.1 480.5 734.7 481.4C733.4 482.3 731.3 482.9 729.5 483.0C727.6 483.0 725.3 482.5 723.6 481.7C722.0 480.9 720.3 479.5 719.5 478.1C718.6 476.7 718.3 474.9 718.6 473.5C718.9 472.1 719.9 470.6 721.3 469.7C722.6 468.8 724.7 468.2 726.5 468.1C728.4 468.1 730.7 468.5 732.4 469.4C734.0 470.2 735.7 471.6 736.5 473.0C737.4 474.3 737.7 476.1 737.4 477.5ZM781.7 549.9C781.5 547.6 783.7 544.5 784.8 542.1C785.8 539.7 786.6 537.2 787.9 535.6C789.2 534.0 790.9 532.9 792.6 532.5C794.2 532.0 796.6 532.1 798.0 532.8C799.4 533.5 800.5 534.9 801.1 536.7C801.7 538.5 801.8 541.3 801.4 543.7C801.0 546.0 799.6 548.3 798.8 550.7C797.9 553.0 797.0 555.5 796.4 557.7C795.9 559.9 796.3 562.6 795.7 563.9C795.0 565.2 793.6 566.0 792.6 565.4C791.5 564.9 790.6 562.3 789.4 560.8C788.3 559.2 786.9 557.9 785.6 556.1C784.3 554.3 781.8 552.2 781.7 549.9ZM818.2 549.1C818.2 547.9 819.4 546.6 820.6 546.0C821.7 545.4 823.7 545.0 825.2 545.5C826.8 546.1 828.7 547.5 829.9 549.1C831.1 550.7 832.1 553.1 832.5 555.3C832.9 557.5 832.8 560.9 832.2 562.3C831.7 563.8 830.0 564.4 829.1 563.9C828.2 563.4 827.6 560.6 826.8 559.2C826.0 557.8 825.5 556.4 824.4 555.3C823.4 554.3 821.6 554.0 820.6 553.0C819.5 552.0 818.2 550.3 818.2 549.1ZM830.2 570.9C830.2 572.0 829.8 573.4 829.2 574.4C828.7 575.3 827.7 576.2 826.8 576.5C825.8 576.9 824.6 576.9 823.7 576.5C822.8 576.2 821.8 575.3 821.2 574.4C820.6 573.4 820.2 572.0 820.2 570.9C820.2 569.7 820.6 568.4 821.2 567.4C821.8 566.5 822.8 565.6 823.7 565.3C824.6 564.9 825.8 564.9 826.8 565.3C827.7 565.6 828.7 566.5 829.2 567.4C829.8 568.4 830.2 569.7 830.2 570.9ZM772.6 399.4C772.7 398.3 773.7 396.5 774.9 395.6C776.1 394.6 778.1 393.9 779.6 394.0C781.0 394.1 782.5 395.2 783.4 396.3C784.4 397.5 784.7 399.6 785.5 401.0C786.2 402.4 786.9 403.7 788.1 404.9C789.3 406.1 791.6 407.1 792.8 408.0C793.9 408.9 795.4 409.7 795.1 410.3C794.9 411.0 792.6 411.9 791.2 411.9C789.8 411.9 788.1 411.2 786.6 410.3C785.0 409.4 783.4 407.4 781.9 406.4C780.3 405.5 778.5 405.5 777.2 404.9C775.9 404.2 774.9 403.5 774.1 402.6C773.3 401.6 772.4 400.6 772.6 399.4ZM805.3 446.4C805.8 447.1 806.3 448.1 806.5 448.9C806.7 449.6 806.7 450.5 806.4 451.1C806.1 451.7 805.5 452.2 804.9 452.3C804.3 452.5 803.4 452.4 802.7 452.1C801.9 451.8 801.1 451.1 800.5 450.4C799.9 449.8 799.4 448.8 799.3 448.0C799.1 447.3 799.1 446.4 799.4 445.8C799.7 445.2 800.2 444.7 800.9 444.5C801.5 444.4 802.4 444.5 803.1 444.8C803.8 445.1 804.7 445.8 805.3 446.4ZM799.8 470.2C800.3 469.1 802.0 467.6 803.7 466.3C805.4 465.0 808.2 463.7 809.9 462.4C811.6 461.1 812.1 459.6 813.8 458.6C815.5 457.5 817.7 456.8 820.0 456.2C822.3 455.6 825.6 454.8 827.8 455.0C830.0 455.1 832.1 456.0 833.2 457.0C834.4 458.0 835.2 459.7 834.8 460.9C834.4 462.1 832.6 463.6 830.9 464.0C829.2 464.4 826.5 462.8 824.7 463.2C822.9 463.6 821.0 464.6 820.0 466.3C819.0 468.0 819.2 471.4 818.4 473.3C817.7 475.3 816.8 477.0 815.3 478.0C813.9 479.0 811.7 479.7 809.9 479.6C808.1 479.4 806.0 478.3 804.4 477.2C802.9 476.2 801.3 474.5 800.6 473.3C799.8 472.2 799.3 471.4 799.8 470.2ZM877.1 488.9C877.7 487.2 879.3 484.8 881.1 484.4C882.9 484.1 886.3 485.2 887.8 486.7C889.3 488.1 889.3 490.9 890.0 493.3C890.7 495.7 891.6 498.7 892.2 501.1C892.9 503.5 894.4 506.3 894.0 507.8C893.6 509.3 891.6 510.2 890.0 510.0C888.4 509.8 886.1 508.1 884.4 506.7C882.8 505.2 881.1 503.1 880.0 501.1C878.9 499.1 878.3 496.5 877.8 494.4C877.3 492.4 876.6 490.6 877.1 488.9ZM893.9 532.1C893.7 532.9 893.0 533.6 892.2 534.0C891.5 534.4 890.4 534.6 889.5 534.5C888.5 534.5 887.4 534.0 886.6 533.5C885.8 533.0 885.1 532.1 884.8 531.3C884.5 530.5 884.5 529.5 884.7 528.8C885.0 528.0 885.7 527.3 886.4 526.9C887.2 526.5 888.3 526.3 889.2 526.4C890.2 526.4 891.3 526.8 892.1 527.4C892.8 527.9 893.5 528.8 893.9 529.6C894.2 530.4 894.2 531.4 893.9 532.1ZM907.3 556.7C907.6 555.1 909.4 553.1 911.1 551.8C912.9 550.5 915.8 549.5 917.8 548.9C919.7 548.3 922.1 547.5 922.9 548.2C923.6 549.0 922.7 551.7 922.2 553.3C921.7 554.9 919.8 556.1 920.0 557.8C920.2 559.4 922.7 561.7 923.3 563.3C924.0 565.0 924.4 566.9 924.0 567.8C923.6 568.7 922.1 569.3 921.1 568.9C920.1 568.5 918.9 566.7 917.8 565.6C916.7 564.4 915.8 563.0 914.4 562.2C913.1 561.5 910.7 562.0 909.6 561.1C908.4 560.2 907.1 558.2 907.3 556.7ZM922.7 588.4C922.9 586.0 923.6 586.1 924.4 585.3C925.3 584.6 926.5 584.2 928.0 583.8C929.5 583.4 931.0 583.1 933.3 582.9C935.7 582.8 940.6 581.4 942.2 582.9C943.9 584.4 943.9 589.3 943.1 592.0C942.4 594.7 939.4 597.0 937.8 599.1C936.1 601.2 934.7 602.9 933.3 604.4C932.0 606.0 930.9 607.6 929.8 608.4C928.7 609.3 927.6 610.0 926.7 609.8C925.8 609.6 925.0 608.7 924.4 607.1C923.9 605.5 923.4 603.1 923.1 600.0C922.8 596.9 922.4 590.9 922.7 588.4ZM838.3 584.9C838.5 583.8 839.0 582.5 840.1 581.3C841.2 580.1 843.2 579.0 845.0 577.8C846.8 576.6 848.8 575.3 850.8 574.2C852.8 573.1 855.1 571.6 857.0 571.1C858.9 570.7 860.9 570.9 862.3 571.6C863.8 572.2 864.9 573.5 865.9 575.1C866.9 576.7 867.8 579.3 868.6 581.3C869.3 583.4 869.9 585.6 870.3 587.6C870.8 589.5 871.4 591.1 871.2 592.9C871.1 594.7 870.4 596.3 869.4 598.2C868.5 600.1 867.1 602.2 865.4 604.4C863.8 606.7 861.7 609.2 859.7 611.6C857.7 613.9 855.5 616.4 853.4 618.7C851.4 621.0 849.1 623.6 847.2 625.3C845.3 627.0 843.5 628.4 841.9 628.9C840.3 629.4 838.5 629.1 837.4 628.4C836.4 627.8 835.7 626.2 835.5 624.9C835.3 623.6 835.5 622.1 836.1 620.4C836.7 618.7 837.8 616.5 839.2 614.7C840.6 612.8 842.6 611.3 844.6 609.3C846.5 607.4 848.9 605.3 850.8 603.1C852.6 601.0 854.9 598.6 855.7 596.4C856.4 594.3 855.9 592.0 855.2 590.2C854.6 588.4 852.8 586.7 851.7 585.8C850.6 584.9 849.6 584.4 848.6 584.9C847.5 585.3 846.6 587.7 845.4 588.4C844.3 589.2 842.9 589.4 841.9 589.3C840.9 589.3 839.8 588.7 839.2 588.0C838.6 587.3 838.2 586.0 838.3 584.9ZM756.4 629.3C756.3 630.6 755.8 632.1 755.2 633.1C754.6 634.1 753.5 635.0 752.7 635.4C751.8 635.7 750.6 635.6 749.8 635.1C749.0 634.6 748.1 633.6 747.7 632.5C747.3 631.4 747.0 629.8 747.2 628.5C747.3 627.1 747.8 625.6 748.4 624.6C749.0 623.6 750.0 622.7 750.9 622.4C751.8 622.0 752.9 622.1 753.8 622.6C754.6 623.1 755.4 624.1 755.9 625.3C756.3 626.4 756.5 628.0 756.4 629.3ZM741.1 656.6C741.2 657.9 741.1 659.5 740.7 660.6C740.3 661.7 739.5 662.8 738.7 663.2C738.0 663.7 736.9 663.8 736.1 663.5C735.3 663.1 734.3 662.2 733.8 661.2C733.2 660.2 732.7 658.7 732.6 657.4C732.5 656.0 732.7 654.4 733.1 653.3C733.5 652.2 734.2 651.2 735.0 650.7C735.8 650.2 736.8 650.2 737.6 650.5C738.5 650.8 739.4 651.7 740.0 652.7C740.6 653.8 741.0 655.3 741.1 656.6ZM773.3 681.6C773.8 682.7 774.1 684.3 774.0 685.4C773.9 686.6 773.4 687.9 772.7 688.7C772.0 689.4 770.8 689.9 769.8 690.0C768.8 690.0 767.5 689.6 766.5 689.0C765.5 688.3 764.5 687.1 764.0 685.9C763.5 684.8 763.2 683.2 763.3 682.0C763.4 680.9 763.9 679.6 764.6 678.8C765.3 678.1 766.4 677.5 767.5 677.5C768.5 677.4 769.8 677.9 770.8 678.5C771.8 679.2 772.8 680.4 773.3 681.6ZM793.6 626.1C793.9 624.6 794.8 622.2 795.8 620.6C796.8 618.9 798.5 618.0 799.4 616.3C800.4 614.5 800.5 611.7 801.6 610.2C802.8 608.6 804.5 607.6 806.2 607.1C807.8 606.6 809.9 606.7 811.4 607.4C812.9 608.0 813.5 610.1 815.1 610.8C816.7 611.5 819.1 611.0 820.8 611.4C822.6 611.8 824.4 612.4 825.7 613.2C827.0 614.0 828.2 615.2 828.8 616.3C829.4 617.4 829.7 618.8 829.4 619.9C829.1 621.1 828.0 622.3 826.9 623.0C825.9 623.7 824.6 624.2 823.3 624.2C822.0 624.3 820.5 624.0 819.2 623.2C818.0 622.5 817.2 620.4 815.9 619.9C814.7 619.5 812.7 620.0 811.7 620.6C810.6 621.1 809.4 622.0 809.8 623.2C810.2 624.5 812.5 626.3 814.1 627.9C815.7 629.5 817.9 631.1 819.6 632.8C821.3 634.4 822.9 636.0 824.5 637.7C826.1 639.3 828.2 641.1 829.4 642.6C830.6 644.0 831.5 644.9 831.8 646.2C832.1 647.5 831.8 649.2 831.2 650.5C830.6 651.8 829.5 652.9 828.2 654.2C826.8 655.4 825.0 657.0 823.3 657.8C821.5 658.7 819.4 659.5 817.8 659.4C816.1 659.4 814.7 658.5 813.5 657.5C812.3 656.4 811.5 655.0 810.4 653.3C809.4 651.6 808.2 649.6 807.0 647.4C805.8 645.3 804.4 642.3 803.1 640.4C801.8 638.4 800.7 637.1 799.4 635.8C798.2 634.6 796.7 633.9 795.8 632.8C794.9 631.7 794.3 630.5 793.9 629.4C793.6 628.2 793.3 627.5 793.6 626.1ZM824.4 617.5C824.4 617.7 824.3 618.0 824.2 618.1C824.0 618.3 823.8 618.5 823.6 618.5C823.4 618.6 823.1 618.6 822.9 618.5C822.7 618.5 822.5 618.3 822.4 618.1C822.3 618.0 822.2 617.7 822.2 617.5C822.2 617.3 822.3 617.0 822.4 616.9C822.5 616.7 822.7 616.5 822.9 616.5C823.1 616.4 823.4 616.4 823.6 616.5C823.8 616.5 824.0 616.7 824.2 616.9C824.3 617.0 824.4 617.3 824.4 617.5ZM862.4 706.7C862.6 704.7 863.1 702.5 863.6 700.4C864.1 698.4 864.8 696.2 865.6 694.2C866.3 692.3 867.1 690.3 868.3 688.8C869.4 687.3 870.9 686.1 872.6 685.3C874.2 684.5 876.1 684.4 878.0 684.1C879.9 683.9 882.5 683.4 884.2 683.7C885.9 684.0 887.1 685.0 888.1 686.1C889.1 687.2 889.8 688.7 890.1 690.3C890.3 692.0 890.1 693.8 889.7 695.8C889.2 697.7 888.4 700.1 887.3 702.0C886.3 703.9 884.7 705.6 883.4 707.4C882.2 709.3 881.1 711.1 879.9 712.9C878.8 714.6 877.7 716.6 876.4 717.9C875.2 719.3 873.9 720.7 872.6 721.1C871.3 721.4 869.9 721.0 868.7 720.3C867.4 719.6 866.1 718.1 865.2 716.8C864.2 715.4 863.3 713.8 862.8 712.1C862.4 710.4 862.3 708.6 862.4 706.7ZM920.7 694.2C920.9 696.2 920.7 698.6 920.3 700.3C919.9 701.9 919.0 703.4 918.2 704.1C917.3 704.8 916.1 704.9 915.1 704.4C914.1 703.9 913.0 702.5 912.3 701.0C911.6 699.4 911.0 697.1 910.9 695.1C910.7 693.1 910.9 690.7 911.3 689.1C911.7 687.4 912.6 685.9 913.4 685.2C914.3 684.5 915.5 684.4 916.5 684.9C917.5 685.5 918.6 686.8 919.3 688.4C920.0 689.9 920.6 692.3 920.7 694.2ZM930.9 711.6C930.9 712.2 930.6 713.0 930.2 713.5C929.8 714.1 929.2 714.6 928.5 714.8C927.9 715.0 927.1 715.0 926.5 714.8C925.8 714.6 925.2 714.1 924.8 713.5C924.4 713.0 924.1 712.2 924.1 711.6C924.1 710.9 924.4 710.1 924.8 709.6C925.2 709.0 925.8 708.5 926.5 708.3C927.1 708.1 927.9 708.1 928.5 708.3C929.2 708.5 929.8 709.0 930.2 709.6C930.6 710.1 930.9 710.9 930.9 711.6ZM894.4 637.8C895.1 636.7 897.8 635.9 898.9 636.7C900.0 637.4 901.1 640.7 901.1 642.2C901.1 643.7 899.9 645.4 898.9 645.6C897.9 645.7 895.6 644.6 894.9 643.3C894.1 642.0 893.8 638.9 894.4 637.8ZM901.1 654.4C901.5 653.3 903.9 653.1 905.6 653.3C907.2 653.5 910.4 654.6 911.1 655.6C911.9 656.5 911.3 658.1 910.0 658.9C908.7 659.6 904.8 660.7 903.3 660.0C901.9 659.3 900.7 655.6 901.1 654.4ZM913.3 647.8C914.1 645.4 916.9 642.0 918.9 640.0C920.9 638.0 923.3 636.1 925.6 635.6C927.8 635.0 931.0 635.0 932.2 636.7C933.4 638.3 933.6 642.8 932.7 645.6C931.7 648.3 929.0 651.4 926.7 653.3C924.4 655.3 920.9 656.9 918.9 657.1C916.9 657.3 915.4 656.0 914.4 654.4C913.5 652.9 912.6 650.2 913.3 647.8Z"/>
<path fill="#0000ff" d="M601.2 326.8C601.3 325.9 602.7 324.3 603.8 323.9C604.8 323.6 607.0 323.9 607.4 324.6C607.9 325.3 607.4 327.5 606.6 328.3C605.8 329.1 603.6 329.6 602.7 329.4C601.8 329.1 601.0 327.7 601.2 326.8ZM635.6 326.1C635.7 325.2 636.9 324.1 637.8 323.9C638.7 323.8 640.6 324.2 641.0 325.0C641.5 325.9 641.2 328.2 640.6 328.9C640.0 329.7 638.2 330.0 637.3 329.6C636.5 329.1 635.5 327.0 635.6 326.1ZM624.6 352.1C624.9 353.3 624.9 354.8 624.6 355.9C624.3 357.0 623.5 358.1 622.7 358.8C621.8 359.4 620.6 359.7 619.6 359.6C618.5 359.5 617.3 358.9 616.5 358.1C615.6 357.3 614.9 355.9 614.6 354.8C614.2 353.6 614.2 352.0 614.6 350.9C614.9 349.8 615.6 348.7 616.5 348.1C617.3 347.4 618.5 347.1 619.6 347.2C620.6 347.3 621.8 347.9 622.7 348.8C623.5 349.6 624.3 350.9 624.6 352.1ZM706.9 356.0C706.9 356.6 706.6 357.4 706.2 357.9C705.8 358.4 705.2 358.9 704.5 359.1C703.9 359.3 703.0 359.3 702.4 359.1C701.7 358.9 701.0 358.4 700.6 357.9C700.2 357.4 700.0 356.6 700.0 356.0C700.0 355.4 700.2 354.6 700.6 354.1C701.0 353.6 701.7 353.1 702.4 352.9C703.0 352.7 703.9 352.7 704.5 352.9C705.2 353.1 705.8 353.6 706.2 354.1C706.6 354.6 706.9 355.4 706.9 356.0ZM715.3 430.8C715.5 429.5 716.7 428.3 718.3 427.5C719.9 426.7 722.9 426.0 725.0 425.8C727.1 425.6 729.6 425.7 730.8 426.3C732.1 427.0 732.6 428.6 732.5 429.7C732.4 430.8 731.5 432.2 730.0 433.0C728.5 433.8 725.4 433.8 723.3 434.2C721.2 434.6 718.8 435.9 717.5 435.3C716.2 434.8 715.2 432.1 715.3 430.8ZM667.8 472.7C667.8 473.3 667.7 474.1 667.5 474.6C667.2 475.2 666.8 475.6 666.5 475.8C666.1 476.0 665.6 476.0 665.2 475.8C664.8 475.6 664.4 475.2 664.2 474.6C664.0 474.1 663.8 473.3 663.8 472.7C663.8 472.0 664.0 471.2 664.2 470.7C664.4 470.2 664.8 469.7 665.2 469.5C665.6 469.3 666.1 469.3 666.5 469.5C666.8 469.7 667.2 470.2 667.5 470.7C667.7 471.2 667.8 472.0 667.8 472.7ZM683.4 488.8C682.7 489.9 681.6 491.0 680.5 491.6C679.4 492.2 677.9 492.4 676.7 492.2C675.6 492.0 674.3 491.3 673.6 490.4C672.9 489.5 672.3 488.1 672.3 486.9C672.2 485.6 672.6 484.0 673.3 482.9C673.9 481.8 675.1 480.7 676.2 480.1C677.3 479.5 678.8 479.2 679.9 479.4C681.1 479.6 682.3 480.4 683.1 481.2C683.8 482.1 684.3 483.5 684.4 484.8C684.4 486.1 684.0 487.6 683.4 488.8ZM723.3 501.7C723.5 499.9 724.8 498.4 726.4 497.0C728.1 495.6 731.2 494.3 733.4 493.1C735.6 491.9 738.0 491.4 739.7 490.0C741.4 488.6 742.3 485.9 743.6 484.6C744.9 483.3 746.0 482.1 747.4 482.2C748.9 482.4 750.7 483.6 752.1 485.3C753.5 487.0 755.1 489.7 756.0 492.3C756.9 494.9 756.6 498.4 757.6 500.9C758.5 503.4 759.4 505.7 761.4 507.1C763.5 508.5 767.8 508.6 770.0 509.4C772.2 510.3 773.6 510.7 774.7 512.2C775.7 513.8 776.2 516.4 776.2 518.8C776.2 521.2 775.2 523.8 774.7 526.6C774.1 529.3 773.2 532.5 773.1 535.1C773.0 537.8 774.5 541.0 773.9 542.4C773.2 543.8 770.9 543.8 769.2 543.7C767.5 543.5 765.7 541.9 763.8 541.3C761.8 540.8 759.5 540.7 757.6 540.2C755.6 539.8 753.5 539.8 752.1 538.7C750.8 537.6 750.2 535.3 749.5 533.6C748.7 531.8 748.6 529.8 747.4 528.1C746.3 526.4 744.6 525.1 742.8 523.4C741.0 521.8 738.6 520.2 736.6 518.5C734.5 516.7 732.1 514.7 730.3 512.9C728.5 511.1 726.8 509.4 725.7 507.6C724.5 505.7 723.2 503.4 723.3 501.7ZM735.8 477.2C735.5 478.3 734.7 479.4 733.6 480.1C732.5 480.8 730.8 481.2 729.3 481.3C727.8 481.3 725.9 480.9 724.5 480.2C723.1 479.6 721.7 478.5 721.0 477.4C720.3 476.4 720.0 475.0 720.2 473.9C720.5 472.8 721.3 471.7 722.4 471.0C723.5 470.3 725.2 469.8 726.7 469.8C728.2 469.8 730.1 470.2 731.5 470.8C732.9 471.5 734.3 472.6 735.0 473.6C735.7 474.7 736.0 476.1 735.8 477.2ZM784.0 548.3C784.1 546.5 784.7 543.4 785.6 541.3C786.4 539.3 787.7 537.2 789.0 535.9C790.3 534.6 791.8 533.8 793.3 533.6C794.8 533.3 796.8 533.4 798.0 534.3C799.2 535.2 800.0 537.2 800.3 539.0C800.7 540.8 800.5 543.0 800.0 545.2C799.5 547.4 798.4 549.6 797.2 552.2C796.1 554.8 794.4 560.1 793.0 560.8C791.6 561.4 790.0 557.5 788.7 556.1C787.4 554.7 786.0 553.5 785.2 552.2C784.5 550.9 783.9 550.1 784.0 548.3ZM821.3 549.9C821.6 549.2 822.8 548.2 823.7 548.0C824.6 547.9 826.2 548.4 826.8 549.1C827.4 549.8 827.6 551.4 827.2 552.2C826.9 553.0 825.3 553.8 824.4 553.8C823.6 553.8 822.6 552.9 822.1 552.2C821.6 551.6 821.1 550.6 821.3 549.9ZM822.9 568.9C823.6 568.2 826.3 568.2 826.9 568.9C827.6 569.5 827.6 572.2 826.9 572.9C826.3 573.6 823.6 573.6 822.9 572.9C822.2 572.2 822.2 569.5 822.9 568.9ZM783.5 399.2C783.8 400.0 783.9 401.1 783.7 401.9C783.5 402.7 783.0 403.5 782.4 404.0C781.8 404.5 780.9 404.8 780.2 404.8C779.4 404.8 778.4 404.5 777.8 404.0C777.1 403.5 776.5 402.7 776.2 401.9C775.9 401.1 775.8 400.0 776.0 399.2C776.2 398.4 776.7 397.5 777.3 397.1C777.9 396.6 778.8 396.2 779.6 396.2C780.4 396.2 781.3 396.6 781.9 397.1C782.6 397.5 783.2 398.4 783.5 399.2ZM816.4 471.8C816.4 472.8 816.0 474.1 815.5 475.0C814.9 475.8 813.9 476.6 813.0 477.0C812.1 477.3 810.8 477.3 809.9 477.0C809.0 476.6 808.0 475.8 807.4 475.0C806.8 474.1 806.5 472.8 806.5 471.8C806.5 470.7 806.8 469.4 807.4 468.6C808.0 467.7 809.0 466.9 809.9 466.6C810.8 466.3 812.1 466.3 813.0 466.6C813.9 466.9 814.9 467.7 815.5 468.6C816.0 469.4 816.4 470.7 816.4 471.8ZM885.6 491.6C885.6 492.0 885.4 492.6 885.1 493.0C884.9 493.4 884.4 493.7 884.0 493.9C883.6 494.0 883.1 494.0 882.6 493.9C882.2 493.7 881.8 493.4 881.5 493.0C881.3 492.6 881.1 492.0 881.1 491.6C881.1 491.1 881.3 490.5 881.5 490.1C881.8 489.7 882.2 489.4 882.6 489.2C883.1 489.1 883.6 489.1 884.0 489.2C884.4 489.4 884.9 489.7 885.1 490.1C885.4 490.5 885.6 491.1 885.6 491.6ZM884.4 502.2C884.7 501.7 888.9 502.6 889.6 503.3C890.2 504.1 889.1 506.9 888.2 506.7C887.4 506.5 884.2 502.8 884.4 502.2ZM913.8 557.3C913.8 557.9 913.6 558.5 913.3 558.9C913.0 559.3 912.4 559.7 911.9 559.9C911.4 560.0 910.8 560.0 910.3 559.9C909.8 559.7 909.3 559.3 909.0 558.9C908.6 558.5 908.4 557.9 908.4 557.3C908.4 556.8 908.6 556.2 909.0 555.8C909.3 555.3 909.8 555.0 910.3 554.8C910.8 554.6 911.4 554.6 911.9 554.8C912.4 555.0 913.0 555.3 913.3 555.8C913.6 556.2 913.8 556.8 913.8 557.3ZM925.3 588.4C925.7 586.9 926.2 586.8 927.1 586.2C928.0 585.7 929.3 585.3 930.7 585.1C932.0 584.8 933.3 584.8 935.1 584.9C936.9 585.0 940.3 584.9 941.3 585.8C942.4 586.7 942.1 588.9 941.3 590.2C940.6 591.6 938.2 592.4 936.9 593.8C935.6 595.1 934.4 596.7 933.3 598.2C932.3 599.7 931.6 601.7 930.7 602.7C929.8 603.6 928.8 604.1 928.0 604.0C927.2 603.9 926.5 603.2 926.0 601.8C925.6 600.4 925.3 597.8 925.2 595.6C925.0 593.3 925.0 590.0 925.3 588.4ZM852.6 579.6C852.7 578.3 853.4 576.4 854.3 575.6C855.2 574.7 856.7 574.1 857.9 574.2C859.1 574.3 860.6 575.0 861.4 576.0C862.3 577.0 862.7 579.1 862.8 580.4C862.9 581.8 861.5 583.1 861.9 584.0C862.3 584.9 863.9 584.9 865.0 585.8C866.1 586.7 867.7 588.0 868.6 589.3C869.4 590.7 869.9 592.3 869.9 593.8C869.9 595.3 869.4 596.6 868.6 598.2C867.7 599.9 866.6 601.6 865.0 603.6C863.4 605.6 861.2 607.9 859.2 610.2C857.2 612.5 855.1 615.0 853.0 617.3C850.9 619.6 848.6 622.3 846.8 624.0C844.9 625.7 843.3 627.0 841.9 627.6C840.5 628.1 839.2 627.7 838.3 627.1C837.4 626.5 836.7 625.2 836.6 624.0C836.4 622.8 836.8 621.6 837.4 620.0C838.1 618.4 839.1 616.4 840.6 614.7C842.0 612.9 844.0 611.3 845.9 609.3C847.8 607.4 850.3 605.3 852.1 603.1C854.0 601.0 856.1 598.6 857.0 596.4C857.9 594.3 857.7 592.0 857.4 590.2C857.2 588.4 856.3 587.0 855.7 585.8C855.0 584.6 854.0 584.1 853.4 583.1C852.9 582.1 852.4 580.8 852.6 579.6ZM843.0 585.3C843.0 585.5 842.9 585.6 842.8 585.7C842.8 585.8 842.6 585.9 842.5 585.9C842.4 586.0 842.3 586.0 842.1 585.9C842.0 585.9 841.9 585.8 841.8 585.7C841.8 585.6 841.7 585.5 841.7 585.3C841.7 585.2 841.8 585.1 841.8 585.0C841.9 584.9 842.0 584.8 842.1 584.7C842.3 584.7 842.4 584.7 842.5 584.7C842.6 584.8 842.8 584.9 842.8 585.0C842.9 585.1 843.0 585.2 843.0 585.3ZM754.6 629.4C754.5 630.1 754.2 631.0 753.8 631.6C753.5 632.2 752.9 632.7 752.3 632.9C751.8 633.1 751.1 633.0 750.6 632.7C750.1 632.5 749.6 631.8 749.3 631.2C749.0 630.6 748.9 629.6 749.0 628.9C749.0 628.1 749.3 627.2 749.7 626.6C750.1 626.0 750.7 625.5 751.2 625.3C751.8 625.1 752.5 625.2 753.0 625.5C753.5 625.8 754.0 626.4 754.2 627.0C754.5 627.7 754.6 628.6 754.6 629.4ZM736.9 653.8C737.6 653.8 739.1 655.8 739.1 656.9C739.1 657.9 737.6 659.9 736.9 659.9C736.2 659.9 734.9 657.9 734.9 656.9C734.9 655.8 736.2 653.8 736.9 653.8ZM771.7 682.8C772.0 683.5 772.2 684.5 772.1 685.2C772.1 685.9 771.8 686.7 771.4 687.2C771.0 687.7 770.3 688.0 769.7 688.0C769.0 688.0 768.2 687.7 767.7 687.3C767.1 686.9 766.5 686.1 766.1 685.4C765.8 684.7 765.6 683.7 765.6 683.0C765.7 682.3 766.0 681.5 766.4 681.0C766.8 680.6 767.5 680.3 768.1 680.2C768.7 680.2 769.5 680.5 770.1 680.9C770.7 681.3 771.3 682.1 771.7 682.8ZM794.8 626.7C795.1 625.4 795.9 622.9 797.0 621.8C798.1 620.7 800.1 620.7 801.3 619.9C802.5 619.2 803.6 618.7 804.3 617.5C805.0 616.3 804.9 613.9 805.6 612.6C806.2 611.3 807.0 610.2 808.0 609.8C809.0 609.4 810.6 609.6 811.7 610.2C812.7 610.7 813.8 612.0 814.1 613.2C814.4 614.4 814.1 616.5 813.5 617.5C812.9 618.5 811.5 618.7 810.4 619.3C809.4 619.9 807.7 620.1 807.4 621.2C807.1 622.2 807.5 624.0 808.6 625.4C809.7 626.9 812.3 628.2 814.1 629.7C815.9 631.3 817.9 633.0 819.6 634.6C821.3 636.2 823.0 638.0 824.5 639.5C826.0 641.0 827.9 642.5 828.8 643.8C829.7 645.1 829.8 646.2 829.8 647.4C829.8 648.7 829.5 650.0 828.8 651.1C828.1 652.2 826.9 653.3 825.7 654.2C824.5 655.1 822.8 656.1 821.4 656.6C820.1 657.2 818.8 657.6 817.5 657.5C816.3 657.3 815.1 656.7 814.1 655.8C813.1 654.8 812.4 653.4 811.4 651.7C810.4 650.1 809.2 648.0 808.0 646.0C806.8 643.9 805.6 641.3 804.3 639.5C803.1 637.7 801.9 636.2 800.7 635.0C799.4 633.8 797.9 633.1 797.0 632.2C796.1 631.2 795.5 630.3 795.2 629.4C794.8 628.4 794.5 627.9 794.8 626.7ZM823.3 614.4C824.2 614.4 826.1 616.5 826.1 617.5C826.1 618.5 824.2 620.6 823.3 620.6C822.3 620.6 820.5 618.5 820.5 617.5C820.5 616.5 822.3 614.4 823.3 614.4ZM864.4 706.7C864.5 705.0 864.8 703.0 865.2 701.2C865.6 699.4 866.1 697.5 866.7 695.8C867.4 694.0 868.0 692.2 869.1 690.7C870.1 689.2 871.5 687.7 872.9 686.8C874.4 685.9 876.3 685.5 878.0 685.3C879.8 685.0 882.0 685.0 883.4 685.3C884.9 685.6 885.8 686.3 886.6 687.2C887.3 688.2 887.6 689.7 887.7 691.1C887.9 692.5 887.7 694.1 887.3 695.8C886.9 697.5 886.3 699.4 885.4 701.2C884.5 703.0 883.1 704.9 881.9 706.7C880.7 708.5 879.6 710.4 878.4 712.1C877.2 713.9 876.0 715.9 874.9 717.2C873.8 718.4 872.8 719.3 871.8 719.5C870.7 719.7 869.6 719.0 868.7 718.3C867.7 717.6 866.6 716.4 865.9 715.2C865.3 714.1 864.9 712.8 864.6 711.3C864.4 709.9 864.3 708.4 864.4 706.7ZM918.9 694.9C919.0 695.8 918.9 697.0 918.6 697.8C918.3 698.6 917.7 699.4 917.2 699.7C916.6 700.1 915.9 700.1 915.2 699.9C914.6 699.7 913.9 699.0 913.5 698.2C913.1 697.5 912.7 696.4 912.7 695.4C912.6 694.4 912.7 693.3 913.0 692.4C913.3 691.6 913.9 690.9 914.4 690.5C915.0 690.2 915.8 690.1 916.4 690.4C917.0 690.6 917.7 691.3 918.1 692.0C918.5 692.8 918.9 693.9 918.9 694.9ZM914.9 648.9C915.6 646.9 918.1 643.1 920.0 641.1C921.9 639.1 924.1 637.6 926.0 637.1C927.9 636.7 930.2 637.0 931.1 638.4C932.0 639.9 932.4 643.3 931.6 645.6C930.7 647.9 928.0 650.5 926.0 652.2C924.0 653.9 921.1 655.6 919.3 655.8C917.6 656.0 916.3 654.5 915.6 653.3C914.8 652.2 914.1 650.9 914.9 648.9Z"/>
<path fill="#00ff00" d="M623.3 352.4C623.6 353.4 623.6 354.6 623.4 355.5C623.2 356.5 622.6 357.4 622.0 357.9C621.4 358.4 620.5 358.6 619.7 358.5C618.9 358.4 618.0 357.9 617.3 357.2C616.7 356.5 616.1 355.4 615.8 354.4C615.5 353.4 615.5 352.2 615.7 351.3C616.0 350.4 616.5 349.4 617.1 348.9C617.8 348.4 618.7 348.2 619.5 348.3C620.2 348.4 621.2 349.0 621.8 349.6C622.5 350.3 623.1 351.4 623.3 352.4ZM706.0 356.2C706.0 356.4 705.9 356.6 705.8 356.9C705.6 357.1 705.3 357.3 704.9 357.5C704.6 357.7 704.1 357.8 703.8 357.8C703.4 357.8 703.0 357.8 702.7 357.7C702.5 357.6 702.3 357.4 702.2 357.2C702.1 357.0 702.2 356.7 702.4 356.5C702.6 356.2 702.9 356.0 703.2 355.8C703.6 355.7 704.0 355.5 704.4 355.5C704.8 355.5 705.2 355.5 705.4 355.6C705.7 355.7 705.9 355.9 706.0 356.2ZM716.7 431.7C716.9 430.8 717.6 429.9 719.2 429.2C720.7 428.4 723.9 427.2 725.8 427.0C727.8 426.8 729.9 427.4 730.8 428.0C731.8 428.6 731.9 430.1 731.3 430.8C730.8 431.6 729.1 432.0 727.5 432.5C725.9 433.0 723.2 433.4 721.7 433.7C720.1 433.9 718.8 434.5 718.0 434.2C717.2 433.8 716.5 432.5 716.7 431.7ZM666.2 472.7C666.2 473.0 666.2 473.4 666.2 473.6C666.1 473.9 666.0 474.2 666.0 474.3C665.9 474.4 665.8 474.4 665.7 474.3C665.6 474.2 665.5 473.9 665.5 473.6C665.4 473.4 665.4 473.0 665.4 472.7C665.4 472.3 665.4 472.0 665.5 471.7C665.5 471.4 665.6 471.2 665.7 471.1C665.8 471.0 665.9 471.0 666.0 471.1C666.0 471.2 666.1 471.4 666.2 471.7C666.2 472.0 666.2 472.3 666.2 472.7ZM682.4 488.2C681.8 489.1 680.9 490.0 680.0 490.5C679.1 491.0 677.9 491.2 677.0 491.1C676.0 490.9 675.1 490.4 674.5 489.6C673.9 488.9 673.5 487.8 673.4 486.7C673.4 485.7 673.8 484.4 674.3 483.5C674.8 482.6 675.8 481.6 676.7 481.1C677.6 480.7 678.8 480.4 679.7 480.6C680.6 480.7 681.6 481.3 682.2 482.0C682.8 482.7 683.2 483.9 683.2 484.9C683.2 485.9 682.9 487.2 682.4 488.2ZM724.5 501.7 L725.6 505.0 L728.6 509.4 L734.1 514.8 L743.6 522.5 L747.8 526.6 L749.0 528.5 L751.7 535.9 L752.9 537.8 L754.9 538.5 L764.1 540.2 L769.4 542.5 L772.6 542.1 L772.8 540.7 L772.0 536.5 L772.0 533.6 L775.0 518.8 L774.7 515.5 L774.1 513.6 L772.2 511.6 L768.5 510.2 L762.2 508.8 L760.7 508.0 L758.8 506.2 L756.4 501.2 L755.2 493.9 L754.4 491.5 L752.5 488.0 L749.8 484.7 L747.8 483.5 L746.1 483.8 L743.9 486.0 L740.5 490.9 L728.1 497.3 L725.3 499.9ZM735.0 477.0C734.8 478.0 734.0 479.0 733.1 479.6C732.1 480.2 730.5 480.6 729.2 480.6C727.8 480.6 726.1 480.3 724.9 479.7C723.6 479.1 722.4 478.1 721.7 477.2C721.1 476.2 720.8 475.0 721.0 474.0C721.2 473.1 722.0 472.1 722.9 471.5C723.9 470.9 725.5 470.5 726.8 470.4C728.2 470.4 729.9 470.8 731.1 471.4C732.4 471.9 733.6 472.9 734.3 473.9C734.9 474.8 735.2 476.1 735.0 477.0ZM785.2 548.0C785.3 546.4 785.9 543.2 786.6 541.3C787.4 539.4 788.7 537.8 789.9 536.7C791.1 535.6 792.3 534.8 793.6 534.6C794.9 534.5 796.8 534.7 797.7 535.6C798.6 536.4 799.1 538.2 799.2 539.8C799.4 541.4 799.3 543.3 798.8 545.2C798.3 547.2 797.1 549.2 796.1 551.4C795.2 553.6 794.2 557.9 793.0 558.4C791.8 559.0 790.1 555.8 789.0 554.6C787.9 553.3 787.0 552.2 786.3 551.1C785.7 550.0 785.2 549.7 785.2 548.0ZM822.6 549.3C822.8 548.9 825.1 549.2 825.4 549.6C825.6 550.0 824.4 551.8 824.0 551.8C823.5 551.7 822.3 549.6 822.6 549.3ZM782.4 400.1C782.6 400.7 782.6 401.4 782.5 402.0C782.4 402.6 782.0 403.2 781.6 403.5C781.2 403.8 780.6 404.1 780.1 404.1C779.6 404.1 778.9 403.8 778.5 403.4C778.0 403.1 777.6 402.5 777.4 401.9C777.2 401.3 777.1 400.6 777.2 400.0C777.3 399.4 777.7 398.8 778.1 398.5C778.5 398.2 779.1 397.9 779.6 397.9C780.1 397.9 780.8 398.2 781.3 398.5C781.7 398.9 782.1 399.5 782.4 400.1ZM811.9 469.0C812.8 468.9 814.2 470.1 814.6 471.0C814.9 471.9 814.5 474.0 813.8 474.6C813.0 475.2 810.8 475.1 810.0 474.6C809.3 474.1 808.8 472.4 809.1 471.5C809.4 470.5 811.0 469.1 811.9 469.0ZM926.2 589.3C926.5 587.9 927.2 587.7 928.0 587.1C928.8 586.6 929.9 586.1 931.1 586.0C932.4 586.0 934.7 586.0 935.6 586.7C936.4 587.4 936.7 588.7 936.4 590.2C936.0 591.7 934.4 593.9 933.5 595.6C932.6 597.2 931.9 598.9 931.1 600.0C930.3 601.1 929.6 601.9 928.9 602.0C928.2 602.0 927.6 601.5 927.1 600.4C926.7 599.4 926.4 597.4 926.2 595.6C926.1 593.7 925.9 590.7 926.2 589.3ZM861.0 579.6C861.0 580.3 860.7 581.1 860.3 581.6C859.9 582.2 859.2 582.7 858.5 582.9C857.9 583.2 857.0 583.2 856.3 582.9C855.7 582.7 855.0 582.2 854.6 581.6C854.2 581.1 853.9 580.3 853.9 579.6C853.9 578.9 854.2 578.0 854.6 577.5C855.0 576.9 855.7 576.4 856.3 576.2C857.0 576.0 857.9 576.0 858.5 576.2C859.2 576.4 859.9 576.9 860.3 577.5C860.7 578.0 861.0 578.9 861.0 579.6ZM860.1 586.7C860.8 585.8 862.1 585.6 863.2 585.8C864.3 586.0 865.8 586.9 866.8 588.0C867.7 589.1 868.8 591.0 869.0 592.4C869.2 593.9 868.9 595.3 868.1 596.9C867.4 598.5 866.1 600.2 864.6 602.2C863.0 604.2 860.8 606.6 858.8 608.9C856.8 611.2 854.6 613.7 852.6 616.0C850.5 618.3 848.1 621.0 846.3 622.7C844.6 624.4 843.1 625.7 841.9 626.2C840.7 626.7 839.9 626.2 839.2 625.8C838.6 625.3 838.0 624.5 837.9 623.6C837.8 622.6 838.1 621.4 838.8 620.0C839.4 618.6 840.5 616.8 841.9 615.1C843.3 613.4 845.3 611.7 847.2 609.8C849.1 607.9 851.6 605.7 853.4 603.6C855.3 601.4 857.4 599.0 858.3 596.9C859.3 594.8 858.9 592.8 859.2 591.1C859.5 589.4 859.4 587.6 860.1 586.7ZM753.0 629.3C752.9 629.8 752.7 630.3 752.5 630.7C752.3 631.1 752.0 631.4 751.7 631.5C751.5 631.6 751.2 631.5 751.0 631.3C750.8 631.1 750.6 630.8 750.6 630.4C750.5 629.9 750.5 629.4 750.6 628.9C750.7 628.4 750.8 627.9 751.1 627.5C751.3 627.2 751.6 626.9 751.8 626.8C752.1 626.6 752.4 626.7 752.6 626.9C752.8 627.1 752.9 627.5 753.0 627.9C753.1 628.3 753.1 628.9 753.0 629.3ZM767.1 681.7C767.7 681.5 771.0 684.8 771.1 685.6C771.2 686.4 768.1 687.2 767.4 686.6C766.8 685.9 766.4 681.8 767.1 681.7ZM824.0 617.6C824.0 617.7 824.0 617.9 823.9 618.0C823.8 618.1 823.7 618.2 823.6 618.2C823.5 618.2 823.3 618.2 823.2 618.2C823.1 618.2 823.0 618.1 822.9 618.0C822.8 617.9 822.8 617.7 822.8 617.6C822.8 617.5 822.8 617.4 822.9 617.3C823.0 617.2 823.1 617.1 823.2 617.0C823.3 617.0 823.5 617.0 823.6 617.0C823.7 617.1 823.8 617.2 823.9 617.3C824.0 617.4 824.0 617.5 824.0 617.6ZM796.0 626.7C796.3 625.7 797.0 624.1 798.0 623.2C798.9 622.4 800.4 621.6 801.6 621.5C802.9 621.5 804.3 621.9 805.3 622.8C806.4 623.6 806.6 625.1 808.0 626.4C809.4 627.8 811.7 629.4 813.5 630.9C815.3 632.5 817.3 634.2 819.0 635.8C820.7 637.5 822.4 639.2 823.9 640.7C825.4 642.2 827.0 643.6 827.8 644.8C828.6 645.9 828.6 646.5 828.5 647.4C828.5 648.4 828.2 649.6 827.6 650.5C826.9 651.4 825.9 652.1 824.9 652.9C823.8 653.8 822.4 654.9 821.2 655.4C820.0 655.9 818.9 656.1 817.8 656.0C816.7 655.9 815.6 655.4 814.7 654.5C813.8 653.7 813.2 652.4 812.3 650.9C811.3 649.3 810.1 647.2 809.0 645.2C807.8 643.2 806.5 640.7 805.3 638.9C804.1 637.1 802.9 635.5 801.6 634.2C800.4 633.0 798.9 632.4 798.0 631.6C797.1 630.7 796.7 629.9 796.4 629.1C796.1 628.3 795.8 627.6 796.0 626.7ZM811.8 612.7C812.1 613.2 812.2 613.9 812.2 614.4C812.1 615.0 811.9 615.6 811.5 616.0C811.2 616.4 810.6 616.7 810.1 616.8C809.6 616.9 808.9 616.8 808.4 616.6C807.9 616.4 807.4 615.9 807.1 615.4C806.9 614.9 806.7 614.3 806.8 613.7C806.8 613.2 807.1 612.6 807.4 612.2C807.8 611.8 808.3 611.5 808.8 611.3C809.4 611.2 810.0 611.3 810.5 611.6C811.0 611.8 811.5 612.3 811.8 612.7ZM865.2 706.7C865.3 705.1 865.6 703.4 865.9 701.6C866.3 699.9 866.9 697.9 867.5 696.2C868.1 694.5 868.9 692.9 869.8 691.5C870.8 690.1 872.0 688.8 873.3 688.0C874.7 687.2 876.4 686.7 878.0 686.4C879.6 686.2 881.8 686.2 883.1 686.4C884.3 686.7 885.0 687.3 885.6 688.2C886.2 689.0 886.5 690.2 886.6 691.5C886.6 692.8 886.6 694.2 886.2 695.8C885.8 697.3 885.1 699.1 884.2 700.8C883.4 702.6 882.1 704.5 881.0 706.3C879.9 708.0 878.7 709.7 877.6 711.3C876.5 713.0 875.3 715.0 874.3 716.2C873.3 717.3 872.5 718.0 871.6 718.2C870.8 718.3 869.9 717.8 869.1 717.2C868.2 716.5 867.3 715.5 866.7 714.4C866.1 713.4 865.7 712.2 865.4 710.9C865.1 709.6 865.1 708.2 865.2 706.7ZM917.2 695.1C917.2 695.5 917.1 695.9 916.9 696.2C916.7 696.5 916.5 696.7 916.2 696.8C916.0 696.9 915.6 696.9 915.4 696.8C915.1 696.7 914.9 696.5 914.7 696.2C914.6 695.9 914.5 695.5 914.5 695.1C914.5 694.8 914.6 694.4 914.7 694.1C914.9 693.8 915.1 693.5 915.4 693.4C915.6 693.3 916.0 693.3 916.2 693.4C916.5 693.5 916.7 693.8 916.9 694.1C917.1 694.4 917.2 694.8 917.2 695.1ZM916.2 648.9C917.0 647.2 919.4 644.0 921.1 642.2C922.8 640.5 925.0 638.8 926.4 638.4C927.9 638.1 929.3 638.8 930.0 640.0C930.7 641.2 931.2 643.7 930.4 645.6C929.7 647.4 927.3 649.6 925.6 651.1C923.8 652.6 921.3 654.3 919.8 654.4C918.3 654.6 917.3 653.1 916.7 652.2C916.1 651.3 915.5 650.6 916.2 648.9Z"/>
<path fill="#00cc00" d="M621.9 352.8C622.0 353.4 622.1 354.2 621.9 354.8C621.8 355.3 621.5 355.9 621.1 356.2C620.7 356.5 620.1 356.7 619.7 356.6C619.2 356.5 618.6 356.2 618.2 355.8C617.8 355.3 617.4 354.6 617.3 354.0C617.1 353.4 617.1 352.6 617.2 352.1C617.4 351.5 617.7 350.9 618.1 350.6C618.4 350.3 619.0 350.2 619.5 350.2C620.0 350.3 620.5 350.6 620.9 351.1C621.3 351.5 621.7 352.2 621.9 352.8ZM681.1 487.4C680.7 488.0 680.1 488.7 679.5 489.0C678.9 489.3 678.1 489.4 677.4 489.3C676.8 489.2 676.1 488.9 675.7 488.4C675.3 487.9 675.1 487.1 675.0 486.4C675.0 485.7 675.2 484.9 675.6 484.2C676.0 483.6 676.6 483.0 677.2 482.7C677.8 482.4 678.6 482.2 679.2 482.3C679.9 482.4 680.5 482.8 680.9 483.3C681.3 483.8 681.6 484.6 681.6 485.2C681.7 485.9 681.4 486.8 681.1 487.4ZM725.9 501.8 L727.3 505.3 L730.4 509.3 L748.9 525.7 L750.3 528.0 L752.6 534.5 L753.8 536.7 L764.4 538.8 L769.2 541.0 L771.4 541.1 L770.5 534.9 L773.6 519.7 L773.5 516.7 L772.8 514.2 L772.0 513.1 L769.2 511.9 L761.5 510.0 L759.8 509.1 L757.7 507.1 L755.1 501.6 L753.8 494.2 L753.1 492.0 L751.4 488.7 L748.9 485.8 L747.4 484.9 L746.9 485.0 L745.0 486.8 L741.4 492.0 L739.0 493.5 L728.8 498.5 L726.9 500.2ZM733.8 476.5C733.6 477.3 733.0 478.1 732.1 478.6C731.3 479.1 730.0 479.4 728.8 479.4C727.6 479.4 726.1 479.1 725.0 478.6C723.9 478.1 722.8 477.3 722.3 476.5C721.7 475.7 721.4 474.7 721.6 473.9C721.8 473.2 722.4 472.3 723.3 471.9C724.1 471.4 725.4 471.1 726.6 471.1C727.8 471.1 729.3 471.4 730.4 471.9C731.5 472.3 732.5 473.2 733.1 473.9C733.7 474.7 733.9 475.7 733.8 476.5ZM786.0 548.0 L786.3 549.5 L787.7 551.8 L792.7 557.6 L798.2 544.1 L798.4 539.9 L798.0 537.7 L797.1 536.2 L795.6 535.5 L793.2 535.6 L791.6 536.3 L789.9 537.8 L787.4 541.6ZM928.0 590.2C928.1 589.5 928.7 588.7 929.3 588.3C930.0 587.8 931.2 587.5 932.0 587.6C932.8 587.7 933.8 588.1 934.0 588.9C934.3 589.7 933.9 591.4 933.5 592.4C933.1 593.5 932.4 594.8 931.7 595.1C931.1 595.5 930.1 594.9 929.6 594.5C929.1 594.0 928.7 593.2 928.4 592.4C928.2 591.7 927.9 590.9 928.0 590.2ZM861.0 588.9C861.5 588.1 862.8 587.6 863.7 587.7C864.6 587.9 865.7 588.8 866.3 589.8C867.0 590.7 867.6 592.1 867.7 593.3C867.7 594.5 867.5 595.5 866.8 596.9C866.0 598.3 864.8 599.9 863.2 601.8C861.7 603.7 859.4 606.1 857.4 608.4C855.4 610.7 853.1 613.4 851.2 615.6C849.3 617.7 847.4 619.9 845.9 621.3C844.4 622.8 843.3 624.0 842.3 624.4C841.4 624.9 840.6 624.4 840.1 624.0C839.7 623.6 839.5 622.7 839.7 621.8C839.8 620.9 840.3 619.9 841.0 618.7C841.7 617.5 842.8 616.1 844.1 614.7C845.4 613.3 847.2 612.0 849.0 610.2C850.8 608.4 853.0 606.1 854.8 604.0C856.6 601.9 858.7 599.3 859.7 597.3C860.6 595.4 860.2 593.9 860.4 592.4C860.6 591.0 860.5 589.7 861.0 588.9ZM796.8 626.9 L796.9 628.1 L797.9 630.2 L802.2 633.6 L804.7 636.7 L814.2 652.5 L815.7 654.3 L817.9 655.2 L820.3 654.9 L822.6 653.6 L826.6 650.4 L827.5 648.8 L827.7 647.0 L827.6 646.0 L826.7 644.7 L817.6 635.6 L807.5 627.0 L804.8 623.4 L802.2 622.3 L800.1 622.8 L798.1 624.2ZM866.2 706.7C866.3 705.2 866.6 703.7 867.0 702.0C867.3 700.3 867.9 698.3 868.5 696.7C869.1 695.1 869.7 693.5 870.6 692.3C871.5 691.0 872.5 689.9 873.7 689.2C875.0 688.4 876.5 687.9 878.0 687.6C879.5 687.4 881.4 687.4 882.5 687.6C883.6 687.9 884.1 688.5 884.6 689.2C885.1 689.9 885.3 690.9 885.4 691.9C885.5 692.9 885.4 694.0 885.0 695.4C884.6 696.8 883.9 698.7 883.1 700.4C882.2 702.2 881.0 704.0 879.9 705.7C878.9 707.4 877.7 709.2 876.7 710.7C875.6 712.3 874.6 714.1 873.7 715.1C872.9 716.1 872.3 716.6 871.6 716.8C870.9 716.9 870.3 716.5 869.6 716.0C868.9 715.5 868.1 714.6 867.6 713.7C867.0 712.8 866.6 711.7 866.3 710.6C866.1 709.4 866.1 708.1 866.2 706.7ZM916.9 649.2 L916.8 651.0 L917.9 652.8 L919.2 653.7 L921.2 653.2 L924.2 651.3 L927.9 648.0 L929.8 645.3 L930.1 642.6 L929.1 639.9 L927.2 639.1 L924.3 640.4 L920.7 643.7Z"/>
<path fill="#009900" d="M727.4 501.9 L729.0 505.4 L731.4 508.3 L749.8 524.6 L751.6 527.5 L754.7 535.6 L764.7 537.5 L769.7 539.7 L769.2 536.6 L769.3 533.4 L772.2 519.5 L772.1 516.9 L771.5 514.8 L770.9 514.1 L768.7 513.2 L760.8 511.3 L758.9 510.2 L756.7 508.0 L754.9 505.1 L753.7 502.0 L751.8 492.6 L750.2 489.5 L748.0 486.9 L747.4 486.4 L746.5 487.3 L743.7 491.5 L742.0 493.2 L739.7 494.7 L730.5 499.1 L728.4 500.6ZM731.0 475.8C730.9 476.3 730.5 476.7 729.9 477.0C729.3 477.2 728.4 477.4 727.6 477.4C726.8 477.3 725.7 477.1 725.0 476.8C724.2 476.5 723.4 476.0 723.0 475.5C722.6 475.1 722.4 474.5 722.5 474.0C722.6 473.6 723.0 473.1 723.6 472.8C724.2 472.6 725.1 472.4 725.9 472.5C726.7 472.5 727.8 472.7 728.5 473.0C729.3 473.3 730.1 473.8 730.5 474.3C730.9 474.8 731.1 475.4 731.0 475.8ZM786.8 548.1 L787.0 549.1 L788.0 550.8 L792.5 556.5 L797.4 543.9 L797.7 540.0 L796.6 536.8 L794.9 536.2 L793.4 536.3 L791.5 537.4 L790.0 539.0 L787.8 542.9ZM865.6 595.1C865.3 595.8 864.8 596.6 864.3 597.1C863.8 597.6 863.2 598.0 862.6 598.1C862.1 598.1 861.6 597.9 861.2 597.5C860.8 597.1 860.6 596.4 860.5 595.7C860.5 595.0 860.6 594.1 860.9 593.4C861.2 592.6 861.6 591.8 862.1 591.3C862.6 590.8 863.3 590.5 863.8 590.4C864.3 590.3 864.9 590.5 865.2 590.9C865.6 591.3 865.9 592.0 865.9 592.7C866.0 593.4 865.8 594.3 865.6 595.1ZM857.6 604.0C857.8 604.2 857.9 604.5 857.8 604.8C857.8 605.1 857.6 605.5 857.4 605.8C857.1 606.2 856.8 606.5 856.4 606.8C856.1 607.0 855.7 607.2 855.4 607.2C855.1 607.3 854.8 607.2 854.6 607.0C854.4 606.9 854.4 606.6 854.4 606.3C854.5 605.9 854.6 605.5 854.9 605.2C855.1 604.9 855.5 604.5 855.8 604.3C856.1 604.0 856.5 603.9 856.9 603.8C857.2 603.8 857.5 603.8 857.6 604.0ZM797.6 627.1 L797.7 628.1 L798.8 630.1 L802.8 633.1 L806.0 637.1 L814.9 652.1 L816.2 653.7 L818.0 654.4 L820.1 654.1 L822.2 653.0 L826.0 649.9 L826.7 648.5 L826.9 647.0 L826.1 645.2 L817.0 636.2 L806.9 627.6 L804.3 624.0 L802.1 623.1 L800.4 623.5 L798.8 624.7ZM867.3 706.7C867.3 705.4 867.5 703.9 867.9 702.4C868.3 700.8 868.9 698.9 869.4 697.3C870.0 695.8 870.6 694.2 871.4 693.1C872.2 691.9 873.0 691.0 874.1 690.3C875.2 689.6 876.7 689.0 878.0 688.8C879.3 688.5 881.0 688.5 881.9 688.8C882.8 689.0 883.2 689.6 883.6 690.2C884.0 690.8 884.2 691.4 884.2 692.3C884.3 693.1 884.2 694.1 883.8 695.4C883.4 696.7 882.7 698.4 881.9 700.1C881.1 701.7 879.9 703.5 878.9 705.1C877.9 706.8 876.8 708.5 875.8 709.9C874.9 711.4 873.9 712.9 873.2 713.8C872.5 714.7 872.1 715.1 871.6 715.2C871.1 715.4 870.6 715.0 870.1 714.6C869.5 714.2 869.0 713.5 868.5 712.7C868.1 712.0 867.6 711.2 867.4 710.2C867.2 709.2 867.2 708.0 867.3 706.7ZM917.5 649.4 L917.4 650.7 L919.4 653.0 L921.8 652.1 L924.7 650.0 L927.4 647.5 L929.1 645.0 L929.4 642.7 L928.6 640.4 L927.6 639.8 L926.8 639.8 L923.8 641.6 L920.3 645.2Z"/>
<path fill="#ffff00" d="M728.8 504.8C728.9 503.6 729.8 501.8 731.1 500.9C732.4 500.0 735.0 500.4 736.6 499.3C738.1 498.3 739.0 496.1 740.4 494.7C741.9 493.2 743.6 491.3 745.1 490.8C746.7 490.3 748.6 490.6 749.8 491.6C750.9 492.5 751.9 494.3 752.1 496.2C752.4 498.2 751.7 501.0 751.3 503.2C750.9 505.4 750.7 507.5 749.8 509.4C748.9 511.4 747.4 514.0 745.9 514.9C744.3 515.8 742.3 515.5 740.4 514.9C738.6 514.2 736.7 512.2 735.0 511.0C733.3 509.8 731.4 508.9 730.3 507.9C729.3 506.9 728.6 505.9 728.8 504.8ZM747.4 519.6C747.6 517.9 749.3 516.1 750.6 514.9C751.9 513.7 753.3 512.5 755.2 512.2C757.2 512.0 760.0 512.9 762.2 513.3C764.4 513.8 766.6 514.4 768.4 514.9C770.3 515.4 772.3 515.3 773.1 516.4C773.9 517.6 773.8 520.1 773.4 521.9C773.0 523.7 771.6 525.3 770.8 527.3C769.9 529.4 769.7 532.9 768.4 534.3C767.1 535.8 764.9 535.8 763.0 535.9C761.1 536.0 758.3 536.1 756.8 535.1C755.2 534.1 754.8 531.4 753.7 529.7C752.5 528.0 750.8 526.7 749.8 525.0C748.7 523.3 747.3 521.2 747.4 519.6ZM789.0 543.7C789.1 542.2 789.2 540.3 789.9 539.0C790.6 537.7 791.9 536.0 793.0 535.6C794.2 535.1 795.9 535.4 796.8 536.2C797.6 537.0 797.9 538.7 798.0 540.2C798.1 541.7 797.8 543.7 797.2 545.2C796.7 546.8 795.5 548.7 794.6 549.6C793.6 550.4 792.3 550.5 791.5 550.2C790.6 549.9 789.9 548.6 789.4 547.6C789.0 546.5 788.9 545.1 789.0 543.7ZM843.2 617.8C843.4 616.8 843.7 615.6 844.6 614.7C845.4 613.7 846.8 612.9 848.1 612.0C849.4 611.1 851.4 609.7 852.6 609.3C853.7 609.0 854.5 609.1 854.8 609.8C855.1 610.4 854.9 612.1 854.3 613.3C853.8 614.5 852.7 615.7 851.7 616.9C850.6 618.1 849.2 619.6 848.1 620.4C847.0 621.3 845.8 621.8 845.0 621.8C844.2 621.8 843.5 621.1 843.2 620.4C842.9 619.8 843.0 618.7 843.2 617.8ZM804.7 627.5C805.1 628.1 805.4 629.0 805.5 629.7C805.6 630.4 805.6 631.1 805.3 631.5C805.1 631.9 804.7 632.2 804.2 632.1C803.8 632.1 803.1 631.8 802.6 631.4C802.1 631.0 801.5 630.2 801.1 629.5C800.7 628.9 800.3 628.0 800.2 627.3C800.1 626.6 800.2 625.9 800.4 625.5C800.6 625.1 801.0 624.8 801.5 624.9C802.0 624.9 802.6 625.2 803.1 625.6C803.7 626.0 804.3 626.8 804.7 627.5ZM806.2 635.2C806.3 634.1 807.6 633.2 808.6 633.0C809.6 632.8 811.0 633.2 812.3 634.0C813.6 634.8 815.0 636.3 816.6 637.7C818.1 639.0 820.1 640.6 821.4 641.9C822.8 643.3 823.9 644.5 824.5 645.6C825.1 646.7 825.2 647.8 824.9 648.7C824.6 649.6 823.6 650.4 822.7 651.1C821.7 651.8 820.3 652.7 819.2 652.9C818.2 653.1 817.4 652.9 816.6 652.3C815.7 651.7 815.0 650.6 814.1 649.3C813.2 648.0 812.1 646.0 811.1 644.4C810.0 642.8 808.8 641.0 808.0 639.5C807.2 638.0 806.1 636.3 806.2 635.2ZM869.1 706.7C869.1 705.1 869.4 703.6 869.8 702.0C870.2 700.4 870.8 698.5 871.4 696.9C872.0 695.4 872.5 693.7 873.3 692.7C874.2 691.6 875.3 690.9 876.4 690.5C877.5 690.0 879.0 689.8 879.9 689.9C880.9 690.0 881.8 690.5 882.3 691.1C882.8 691.7 883.1 692.5 883.1 693.4C883.1 694.4 882.7 695.4 882.3 696.6C881.8 697.7 881.1 699.0 880.3 700.4C879.6 701.9 878.5 703.6 877.6 705.1C876.7 706.7 875.6 708.5 874.9 709.8C874.2 711.1 874.0 712.3 873.3 712.9C872.7 713.5 871.6 713.5 871.0 713.3C870.4 713.0 869.8 712.4 869.4 711.3C869.1 710.2 869.0 708.2 869.1 706.7ZM926.1 645.2C926.5 645.6 926.6 646.2 926.6 646.8C926.5 647.4 926.2 648.1 925.8 648.7C925.3 649.3 924.6 649.9 924.0 650.3C923.4 650.6 922.6 650.9 922.0 650.9C921.4 650.9 920.8 650.7 920.5 650.3C920.2 649.9 920.0 649.3 920.1 648.8C920.2 648.2 920.5 647.4 920.9 646.8C921.3 646.3 922.0 645.6 922.6 645.3C923.3 644.9 924.1 644.7 924.6 644.7C925.2 644.7 925.8 644.9 926.1 645.2Z"/>
<path fill="#ffcc00" d="M737.0 503.2C737.4 501.9 738.4 500.0 739.7 498.6C740.9 497.1 742.9 495.2 744.3 494.7C745.8 494.1 747.4 494.4 748.2 495.4C749.1 496.5 749.5 498.9 749.5 500.9C749.4 502.8 748.8 505.6 747.9 507.1C747.1 508.7 745.7 509.8 744.3 510.2C743.0 510.6 740.8 510.1 739.7 509.4C738.5 508.8 737.8 507.4 737.3 506.3C736.9 505.3 736.6 504.5 737.0 503.2ZM751.3 520.3C751.6 518.8 753.0 516.9 754.4 516.0C755.9 515.1 757.9 514.9 759.9 514.9C761.8 514.9 764.3 515.5 766.1 516.0C767.9 516.5 770.0 516.8 770.8 518.0C771.6 519.2 771.2 521.6 770.8 523.4C770.4 525.3 769.4 527.3 768.4 528.9C767.5 530.4 766.8 532.1 765.3 532.8C763.9 533.4 761.4 533.4 759.9 532.8C758.3 532.1 757.2 530.2 756.0 528.9C754.8 527.6 753.7 526.4 752.9 525.0C752.1 523.6 751.1 521.8 751.3 520.3ZM791.0 542.1C791.0 540.8 791.4 539.1 792.1 538.2C792.7 537.3 794.0 536.5 794.9 536.7C795.7 536.8 796.9 537.9 797.2 539.0C797.5 540.1 797.2 542.1 796.8 543.4C796.3 544.7 795.4 546.3 794.6 546.8C793.8 547.2 792.7 546.8 792.1 546.0C791.5 545.2 791.0 543.4 791.0 542.1ZM848.8 616.9C848.8 617.0 848.8 617.2 848.7 617.3C848.6 617.4 848.5 617.4 848.3 617.5C848.2 617.5 848.0 617.5 847.9 617.5C847.8 617.4 847.6 617.4 847.5 617.3C847.5 617.2 847.4 617.0 847.4 616.9C847.4 616.8 847.5 616.6 847.5 616.5C847.6 616.4 847.8 616.3 847.9 616.3C848.0 616.3 848.2 616.3 848.3 616.3C848.5 616.3 848.6 616.4 848.7 616.5C848.8 616.6 848.8 616.8 848.8 616.9ZM808.2 637.1C808.2 636.1 809.7 635.4 810.7 635.5C811.7 635.5 812.8 636.4 814.1 637.4C815.4 638.4 817.1 640.1 818.4 641.3C819.7 642.6 821.3 643.9 822.1 645.0C822.8 646.1 823.1 647.2 822.9 648.1C822.8 648.9 822.0 649.6 821.2 650.1C820.4 650.6 819.2 651.2 818.4 651.1C817.6 651.0 817.1 650.6 816.3 649.6C815.6 648.7 814.7 647.0 813.9 645.6C813.0 644.2 812.0 642.8 811.1 641.3C810.1 639.9 808.3 638.0 808.2 637.1ZM872.6 704.3C872.5 702.9 872.9 700.6 873.3 698.9C873.7 697.2 874.2 695.3 874.9 694.2C875.5 693.2 876.4 692.9 877.2 692.7C878.1 692.5 879.4 692.6 879.9 693.1C880.5 693.5 880.7 694.5 880.7 695.4C880.7 696.3 880.4 697.3 879.9 698.5C879.5 699.7 878.7 701.2 878.0 702.4C877.3 703.6 876.4 705.0 875.7 705.9C875.0 706.7 874.2 707.7 873.7 707.4C873.2 707.2 872.6 705.8 872.6 704.3Z"/>
<path fill="#ff6600" d="M739.7 504.0C739.8 502.8 740.8 501.1 741.7 500.1C742.6 499.1 744.2 497.8 745.1 497.8C746.0 497.8 746.9 498.9 747.1 500.1C747.3 501.3 747.0 503.5 746.4 504.8C745.8 506.1 744.5 507.5 743.6 507.9C742.6 508.3 741.4 507.8 740.8 507.1C740.1 506.5 739.5 505.2 739.7 504.0ZM756.8 523.4C757.0 521.9 758.6 520.5 759.9 519.6C761.2 518.6 763.1 518.0 764.6 518.0C766.0 518.0 767.7 518.5 768.4 519.6C769.1 520.6 769.1 522.5 768.8 524.2C768.4 525.9 767.7 528.4 766.6 529.7C765.5 530.9 763.5 531.7 762.2 531.5C760.9 531.4 759.7 530.2 758.8 528.9C757.9 527.5 756.6 525.0 756.8 523.4ZM792.6 541.3C792.6 540.4 793.1 539.2 793.6 538.7C794.2 538.2 795.1 537.9 795.7 538.2C796.2 538.5 796.8 539.6 796.8 540.6C796.8 541.5 796.2 543.0 795.7 543.7C795.1 544.3 794.2 544.8 793.6 544.4C793.1 544.1 792.6 542.3 792.6 541.3ZM810.7 638.9C810.6 638.0 812.0 637.7 812.9 637.9C813.8 638.1 814.8 639.1 815.9 640.1C817.1 641.1 818.7 642.7 819.6 643.8C820.5 644.9 821.3 645.9 821.4 646.8C821.6 647.8 821.0 648.8 820.5 649.3C819.9 649.7 818.8 650.1 818.0 649.6C817.3 649.2 816.7 647.9 815.9 646.8C815.2 645.8 814.4 644.5 813.5 643.2C812.6 641.8 810.8 639.8 810.7 638.9Z"/>
<path fill="#ff0000" d="M743.7 504.0C743.7 504.3 743.6 504.7 743.4 505.0C743.3 505.3 743.0 505.5 742.7 505.6C742.5 505.7 742.1 505.7 741.9 505.6C741.6 505.5 741.3 505.3 741.2 505.0C741.0 504.7 740.9 504.3 740.9 504.0C740.9 503.7 741.0 503.3 741.2 503.0C741.3 502.7 741.6 502.5 741.9 502.4C742.1 502.3 742.5 502.3 742.7 502.4C743.0 502.5 743.3 502.7 743.4 503.0C743.6 503.3 743.7 503.7 743.7 504.0ZM758.3 524.2C758.5 523.0 759.6 521.4 760.7 520.6C761.7 519.9 763.4 519.5 764.6 519.6C765.7 519.6 767.1 520.2 767.7 521.1C768.2 522.0 768.1 523.6 767.7 525.0C767.3 526.4 766.3 528.4 765.3 529.4C764.4 530.3 762.9 530.7 761.9 530.4C760.9 530.2 760.0 528.8 759.4 527.8C758.8 526.8 758.1 525.4 758.3 524.2ZM813.5 641.3C813.5 640.7 814.8 640.7 815.6 641.1C816.4 641.5 817.7 642.9 818.4 643.8C819.1 644.7 819.9 645.8 820.0 646.5C820.0 647.2 819.2 647.9 818.8 648.1C818.3 648.2 817.7 647.8 817.2 647.2C816.6 646.7 815.9 645.7 815.3 644.8C814.7 643.8 813.5 641.9 813.5 641.3Z"/>
<path class="grid" d="M261.90 124.3H937.6"/>
<path class="grid" d="M261.90 191.7H937.6"/>
<path class="grid" d="M261.90 259.1H937.6"/>
<path class="grid" d="M261.90 326.5H937.6"/>
<path class="grid" d="M261.90 393.9H937.6"/>
<path class="grid" d="M261.90 461.2H937.6"/>
<path class="grid" d="M261.90 528.6H937.6"/>
<path class="grid" d="M261.90 596.0H937.6"/>
<path class="grid" d="M261.90 663.4H937.6"/>
<path class="grid" d="M261.90 730.8H937.6"/>
<path class="grid" d="M261.90 798.2H937.6"/>
<path class="gridv" d="M301.0 821.14V79.1"/>
<path class="gridv" d="M358.9 821.14V79.1"/>
<path class="gridv" d="M416.7 821.14V79.1"/>
<path class="gridv" d="M474.6 821.14V79.1"/>
<path class="gridv" d="M532.4 821.14V79.1"/>
<path class="gridv" d="M590.2 821.14V79.1"/>
<path class="gridv" d="M648.1 821.14V79.1"/>
<path class="gridv" d="M706.0 821.14V79.1"/>
<path class="gridv" d="M763.8 821.14V79.1"/>
<path class="gridv" d="M821.6 821.14V79.1"/>
<path class="gridv" d="M879.5 821.14V79.1"/>
<path class="coast" d="M278.0 79.5 L288.3 95.5 L295.3 101.7 L300.0 111.7 L303.8 122.0 L322.0 129.5 L325.8 139.5 L317.5 135.8 L310.8 141.7 L317.0 147.2 L322.5 155.5 L317.5 163.3 L307.5 161.3 L298.7 165.5 L291.7 159.7 L278.3 171.3 L295.0 179.2 L308.8 191.5 L318.5 189.5 L326.3 195.8 L327.8 206.7 L327.5 221.7 L324.2 233.7 L332.8 229.5 L329.5 239.5 L320.8 243.3 L313.7 249.2 L303.7 251.7 L300.3 261.3 L305.8 271.3 L300.3 279.5 L293.7 285.0 L288.0 293.3 L293.7 301.3 L291.7 313.3 L293.7 325.8 L299.5 334.5 L305.0 352.5 L331.3 393.3 L348.0 401.3 L360.0 401.3 L381.3 405.0 L389.5 408.8 L403.0 420.8 L428.8 461.3 L437.0 465.0 L444.3 445.5 L452.5 441.3 L454.5 429.3 L465.0 431.3 L475.5 415.5 L482.0 409.3 L472.5 411.3 L468.8 400.0 L468.3 385.5 L456.3 385.5 L449.5 379.5 L440.0 377.0 L430.5 373.0 L420.0 357.0 L411.3 351.3 L407.0 320.0 L405.8 315.3 L399.2 309.2 L406.7 314.2 L411.7 323.3 L416.5 331.0 L425.4 335.4 L435.6 333.2 L441.3 341.3 L451.3 343.8 L456.8 351.3 L465.0 355.5 L470.0 363.0 L477.5 368.8 L487.5 373.0 L497.0 375.0 L488.8 379.5 L498.0 377.5 L506.3 383.8 L507.5 394.5 L515.0 401.3 L525.0 417.0 L525.0 431.3 L520.0 438.8 L518.0 450.5 L525.0 457.0 L530.0 464.5 L536.3 470.0 L543.8 478.8 L553.8 477.0 L563.8 479.5 L572.5 483.3 L591.3 487.0 L601.3 490.8 L610.8 495.0 L620.8 510.8 L630.0 512.5 L645.0 519.5 L657.5 524.5 L665.0 530.0 L672.5 537.5 L677.5 545.0 L685.0 548.8 L692.5 555.0 L698.8 563.8 L705.0 570.0 L710.0 578.8 L717.5 586.3 L723.8 595.0 L725.5 602.5 L722.5 612.5 L723.8 623.8 L728.8 632.5 L718.0 646.3 L727.0 644.5 L718.8 648.8 L716.5 661.4 L702.5 674.9 L699.1 682.3 L707.0 695.8 L721.6 711.6 L729.5 719.2 L737.4 722.8 L749.1 720.6 L783.5 736.8 L789.1 728.9 L789.1 713.1 L785.1 701.2 L779.0 694.0 L764.4 688.4 L757.6 677.8 L751.6 660.9 L773.4 656.4 L784.0 673.8 L801.5 681.0 L811.6 682.8 L817.7 687.9 L806.0 689.1 L811.6 695.8 L821.3 699.0 L813.4 701.9 L817.7 712.0 L821.3 722.1 L816.1 730.0 L814.6 742.4 L824.0 751.4 L837.5 759.3 L846.5 768.3 L852.1 777.3 L857.8 790.8 L860.0 799.8 L860.0 814.4 L867.4 814.4 L869.7 802.0 L866.3 793.0 L865.6 779.5 L867.4 768.3 L871.3 759.3 L878.0 754.8 L889.3 750.3 L899.4 748.5 L911.8 751.4 L932.0 757.0 L937.5 758.1M322.0 129.5 L325.8 119.5 L331.3 111.7 L334.7 101.7 L344.7 99.7 L358.7 112.0 L368.3 116.2 L387.5 119.5 L473.3 159.3 L481.3 155.5 L495.0 144.3 L503.8 140.0 L511.3 133.8 L519.5 130.0 L526.8 135.5 L538.0 135.5 L545.8 141.8 L553.8 145.8 L561.3 153.8 L569.5 157.5 L576.3 151.3 L579.5 147.5 L582.5 156.3 L588.0 165.0 L605.5 173.8 L608.8 183.8 L610.5 195.5 L622.5 195.5 L631.3 199.5 L640.0 195.5 L648.8 200.0 L662.0 211.3 L672.5 209.5 L681.3 205.5 L690.0 199.5 L698.8 197.5 L707.5 193.8 L715.0 187.3 L713.8 175.0 L712.0 162.5M325.8 79.5 L333.3 85.8 L350.0 93.8 L355.3 102.0 L372.5 109.5 L392.0 113.7 L400.8 117.8 L408.3 123.7 L418.3 125.5 L430.0 125.5 L440.0 128.0 L457.5 135.5 L469.3 135.5 L478.8 139.5 L488.8 138.0 L495.0 132.5 L498.8 122.5 L497.5 110.0 L499.5 97.5 L496.3 87.5 L490.8 79.5M450.5 101.8 L456.3 109.5 L447.5 113.3 L450.5 101.8M673.8 79.5 L675.0 90.0 L677.5 105.0 L683.8 125.0 L691.3 140.0 L698.8 151.3 L703.0 163.5 L712.5 162.0 L717.5 164.5 L723.0 175.0 L728.8 191.3 L724.5 184.5 L723.0 198.8 L720.0 207.0 L728.8 203.8 L733.8 211.3 L735.5 223.8 L742.5 242.5 L747.5 251.3 L750.8 261.3 L756.3 270.0 L760.0 280.0 L785.0 318.8 L792.5 325.5 L817.9 364.8 L824.7 370.8 L835.0 369.3 L839.0 379.4 L869.3 427.1 L877.9 431.1 L880.8 439.9 L886.3 449.1 L894.9 453.1 L915.1 456.8 L920.6 465.2 L925.2 469.3 L937.5 478.4M925.2 469.3 L920.6 470.5 L916.9 480.8 L908.7 484.8 L895.8 473.3 L890.3 465.2 L881.2 461.0 L871.1 462.8 L865.6 471.1 L872.2 481.1 L873.3 485.1 L865.6 485.6 L857.8 490.0 L854.0 496.7 L854.0 581.1 L861.1 583.8 L870.0 586.7 L880.0 594.4 L891.1 601.1 L894.9 608.9 L892.2 618.9 L884.4 624.9 L875.6 628.9 L867.6 632.9 L864.4 642.2 L857.3 648.9 L860.4 658.2 L865.8 666.2 L871.1 674.2 L872.4 682.2 L873.3 691.1 L874.5 698.9 L874.9 709.8 L870.2 719.1 L862.8 726.1 L852.1 728.9 L842.0 741.3 L831.2 746.4 L842.0 757.0 L854.4 764.4 L862.3 797.5 L860.0 799.8M422.5 343.3 L432.5 345.0 L437.0 352.5 L427.5 355.0 L420.8 348.8 L422.5 343.3"/>
</g>
<rect x="262.6" y="79.1" width="675.0" height="741.3" fill="none" stroke="#000" stroke-width="1.5" stroke-linejoin="round"/>
<path d="M301.0 820.4v5.5M358.9 820.4v5.5M416.7 820.4v5.5M474.6 820.4v5.5M532.4 820.4v5.5M590.2 820.4v5.5M648.1 820.4v5.5M706.0 820.4v5.5M763.8 820.4v5.5M821.6 820.4v5.5M879.5 820.4v5.5M262.6 124.3h-5.5M262.6 191.7h-5.5M262.6 259.1h-5.5M262.6 326.5h-5.5M262.6 393.9h-5.5M262.6 461.2h-5.5M262.6 528.6h-5.5M262.6 596.0h-5.5M262.6 663.4h-5.5M262.6 730.8h-5.5M262.6 798.2h-5.5" stroke="#000" stroke-width="1.5" fill="none"/>
<rect x="1057.7" y="725.32" width="22.0" height="42.38" fill="#66ffff" stroke="#000" stroke-width="1.25"/>
<rect x="1057.7" y="682.94" width="22.0" height="42.38" fill="#3399ff" stroke="#000" stroke-width="1.25"/>
<rect x="1057.7" y="640.56" width="22.0" height="42.38" fill="#0000ff" stroke="#000" stroke-width="1.25"/>
<rect x="1057.7" y="598.18" width="22.0" height="42.38" fill="#00ff00" stroke="#000" stroke-width="1.25"/>
<rect x="1057.7" y="555.80" width="22.0" height="42.38" fill="#00cc00" stroke="#000" stroke-width="1.25"/>
<rect x="1057.7" y="513.42" width="22.0" height="42.38" fill="#009900" stroke="#000" stroke-width="1.25"/>
<rect x="1057.7" y="471.04" width="22.0" height="42.38" fill="#ffff00" stroke="#000" stroke-width="1.25"/>
<rect x="1057.7" y="428.66" width="22.0" height="42.38" fill="#ffcc00" stroke="#000" stroke-width="1.25"/>
<rect x="1057.7" y="386.28" width="22.0" height="42.38" fill="#ff6600" stroke="#000" stroke-width="1.25"/>
<rect x="1057.7" y="343.90" width="22.0" height="42.38" fill="#ff0000" stroke="#000" stroke-width="1.25"/>
<rect x="1057.7" y="301.52" width="22.0" height="42.38" fill="#cc3300" stroke="#000" stroke-width="1.25"/>
<rect x="1057.7" y="259.14" width="22.0" height="42.38" fill="#990000" stroke="#000" stroke-width="1.25"/>
<rect x="1057.7" y="216.76" width="22.0" height="42.38" fill="#ff00ff" stroke="#000" stroke-width="1.25"/>
<rect x="1057.7" y="174.38" width="22.0" height="42.38" fill="#9933cc" stroke="#000" stroke-width="1.25"/>
<rect x="1057.7" y="132.00" width="22.0" height="42.38" fill="#f5f5f5" stroke="#000" stroke-width="1.25"/>
<path d="M1057.7 132.0L1068.7 90.4L1079.7 132.0Z" fill="#aaaaaa" stroke="#000" stroke-width="1.25" stroke-linejoin="miter"/>
<path d="M1057.7 767.7L1068.7 809.2L1079.7 767.7Z" fill="#fff" stroke="#000" stroke-width="1.25" stroke-linejoin="miter"/>
<g style="filter:grayscale(1)">
<text class="ax" x="279.0" y="840.8" textLength="43.8" lengthAdjust="spacingAndGlyphs">85.8W</text>
<text class="ax" x="337.3" y="840.8" textLength="42.9" lengthAdjust="spacingAndGlyphs">85.5W</text>
<text class="ax" x="394.4" y="840.8" textLength="43.8" lengthAdjust="spacingAndGlyphs">85.2W</text>
<text class="ax" x="452.5" y="840.8" textLength="43.8" lengthAdjust="spacingAndGlyphs">84.9W</text>
<text class="ax" x="510.6" y="840.8" textLength="42.9" lengthAdjust="spacingAndGlyphs">84.6W</text>
<text class="ax" x="567.9" y="840.8" textLength="43.8" lengthAdjust="spacingAndGlyphs">84.3W</text>
<text class="ax" x="633.2" y="840.8" textLength="29.1" lengthAdjust="spacingAndGlyphs">84W</text>
<text class="ax" x="684.1" y="840.8" textLength="42.9" lengthAdjust="spacingAndGlyphs">83.7W</text>
<text class="ax" x="742.1" y="840.8" textLength="42.9" lengthAdjust="spacingAndGlyphs">83.4W</text>
<text class="ax" x="799.6" y="840.8" textLength="43.8" lengthAdjust="spacingAndGlyphs">83.1W</text>
<text class="ax" x="857.6" y="840.8" textLength="43.8" lengthAdjust="spacingAndGlyphs">82.8W</text>
<text class="ax" x="210.5" y="130.4" textLength="42.7" lengthAdjust="spacingAndGlyphs">11.1N</text>
<text class="ax" x="210.5" y="197.8" textLength="42.7" lengthAdjust="spacingAndGlyphs">10.8N</text>
<text class="ax" x="210.5" y="265.2" textLength="42.7" lengthAdjust="spacingAndGlyphs">10.5N</text>
<text class="ax" x="210.5" y="332.6" textLength="42.7" lengthAdjust="spacingAndGlyphs">10.2N</text>
<text class="ax" x="218.6" y="400.0" textLength="34.6" lengthAdjust="spacingAndGlyphs">9.9N</text>
<text class="ax" x="218.6" y="467.4" textLength="34.6" lengthAdjust="spacingAndGlyphs">9.6N</text>
<text class="ax" x="218.6" y="534.7" textLength="34.6" lengthAdjust="spacingAndGlyphs">9.3N</text>
<text class="ax" x="233.1" y="602.1" textLength="20.1" lengthAdjust="spacingAndGlyphs">9N</text>
<text class="ax" x="218.6" y="669.5" textLength="34.6" lengthAdjust="spacingAndGlyphs">8.7N</text>
<text class="ax" x="218.6" y="736.9" textLength="34.6" lengthAdjust="spacingAndGlyphs">8.4N</text>
<text class="ax" x="218.6" y="804.3" textLength="34.6" lengthAdjust="spacingAndGlyphs">8.1N</text>
<text class="cb" x="1085.9" y="774.7" textLength="32.0" lengthAdjust="spacingAndGlyphs">3.5</text>
<text class="cb" x="1085.9" y="732.3" textLength="12.1" lengthAdjust="spacingAndGlyphs">7</text>
<text class="cb" x="1087.0" y="689.9" textLength="43.4" lengthAdjust="spacingAndGlyphs">12.5</text>
<text class="cb" x="1087.0" y="647.6" textLength="24.0" lengthAdjust="spacingAndGlyphs">15</text>
<text class="cb" x="1085.9" y="605.2" textLength="25.1" lengthAdjust="spacingAndGlyphs">20</text>
<text class="cb" x="1085.9" y="562.8" textLength="25.1" lengthAdjust="spacingAndGlyphs">25</text>
<text class="cb" x="1085.9" y="520.4" textLength="25.1" lengthAdjust="spacingAndGlyphs">30</text>
<text class="cb" x="1085.9" y="478.0" textLength="25.1" lengthAdjust="spacingAndGlyphs">40</text>
<text class="cb" x="1085.9" y="435.7" textLength="25.1" lengthAdjust="spacingAndGlyphs">50</text>
<text class="cb" x="1085.9" y="393.3" textLength="25.1" lengthAdjust="spacingAndGlyphs">60</text>
<text class="cb" x="1085.9" y="350.9" textLength="25.1" lengthAdjust="spacingAndGlyphs">75</text>
<text class="cb" x="1085.9" y="308.5" textLength="25.1" lengthAdjust="spacingAndGlyphs">90</text>
<text class="cb" x="1087.0" y="266.1" textLength="37.0" lengthAdjust="spacingAndGlyphs">100</text>
<text class="cb" x="1087.0" y="223.8" textLength="37.0" lengthAdjust="spacingAndGlyphs">120</text>
<text class="cb" x="1087.0" y="181.4" textLength="37.0" lengthAdjust="spacingAndGlyphs">150</text>
<text class="cb" x="1085.9" y="139.0" textLength="38.1" lengthAdjust="spacingAndGlyphs">200</text>
<text class="ti" y="30.2"><tspan x="130.6" textLength="260.9" lengthAdjust="spacingAndGlyphs">IMN/SARAPIQUI_5</tspan> <tspan x="408.4" textLength="193.3" lengthAdjust="spacingAndGlyphs">Precipitacion</tspan> <tspan x="617.7" textLength="162.0" lengthAdjust="spacingAndGlyphs">Acumulada</tspan> <tspan x="797.3" textLength="34.4" lengthAdjust="spacingAndGlyphs">en</tspan> <tspan x="849.4" textLength="18.4" lengthAdjust="spacingAndGlyphs">6</tspan> <tspan x="885.9" textLength="82.6" lengthAdjust="spacingAndGlyphs">horas</tspan> <tspan x="984.8" textLength="83.5" lengthAdjust="spacingAndGlyphs">(mm)</tspan></text>
<text class="ti" y="61.6"><tspan x="461.9" textLength="76.2" lengthAdjust="spacingAndGlyphs">2025</tspan><tspan x="539.3" textLength="22.1" lengthAdjust="spacingAndGlyphs">-</tspan><tspan x="562.7" textLength="36.2" lengthAdjust="spacingAndGlyphs">02</tspan><tspan x="602.7" textLength="22.1" lengthAdjust="spacingAndGlyphs">-</tspan><tspan x="626.5" textLength="36.1" lengthAdjust="spacingAndGlyphs">27</tspan> <tspan x="680.7" textLength="56.2" lengthAdjust="spacingAndGlyphs">00Z</tspan></text>
<text class="ft" y="877"><tspan x="326.8" textLength="102.7" lengthAdjust="spacing">Instituto</tspan> <tspan x="445.7" textLength="173.8" lengthAdjust="spacing">Meteorologico</tspan> <tspan x="635.7" textLength="107.2" lengthAdjust="spacing">Nacional</tspan> <tspan x="758.2" textLength="70.7" lengthAdjust="spacing">Costa</tspan> <tspan x="845.2" textLength="51.8" lengthAdjust="spacing">Rica</tspan></text>
</g>
</svg>
</body>
</html>
